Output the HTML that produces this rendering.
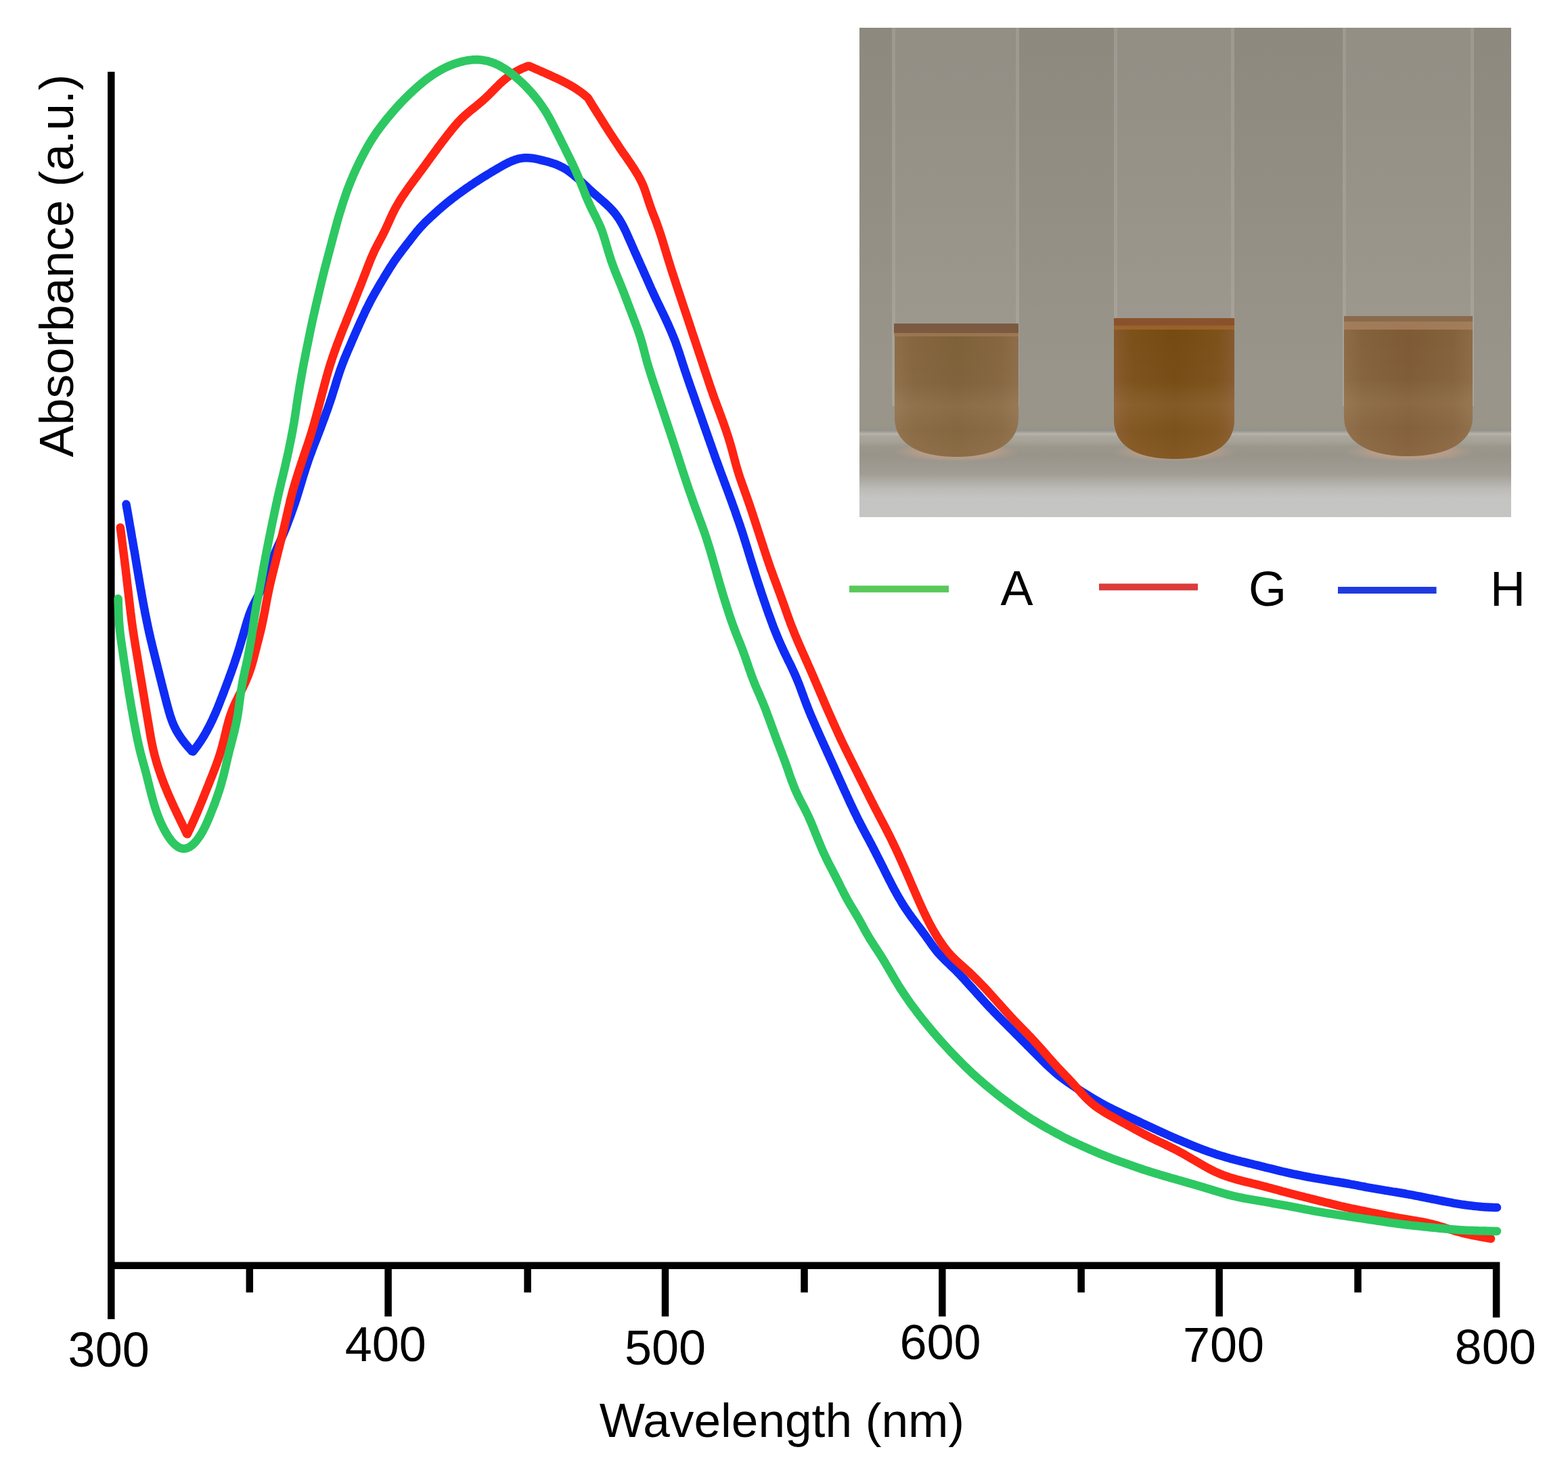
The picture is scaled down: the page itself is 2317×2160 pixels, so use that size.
<!DOCTYPE html><html><head><meta charset="utf-8"><title>Absorbance spectra</title>
<style>html,body{margin:0;padding:0;background:#fff;}svg{display:block;font-family:"Liberation Sans",Arial,sans-serif;}</style></head><body>
<svg width="2317" height="2160" viewBox="0 0 2317 2160" xmlns="http://www.w3.org/2000/svg">
<rect width="2317" height="2160" fill="#fff"/>
<defs>
<linearGradient id="pbg" x1="0" y1="0" x2="0" y2="1"><stop offset="0.00%" stop-color="#8e897f"/><stop offset="21.99%" stop-color="#918c81"/><stop offset="49.65%" stop-color="#969186"/><stop offset="71.78%" stop-color="#99958b"/><stop offset="81.47%" stop-color="#999589"/><stop offset="82.30%" stop-color="#93928b"/><stop offset="82.99%" stop-color="#b6b3ab"/><stop offset="83.54%" stop-color="#aaa69d"/><stop offset="84.51%" stop-color="#a7a296"/><stop offset="85.62%" stop-color="#9c978c"/><stop offset="87.28%" stop-color="#99948a"/><stop offset="91.15%" stop-color="#a19d95"/><stop offset="94.19%" stop-color="#bcbbb7"/><stop offset="96.13%" stop-color="#c4c4c2"/><stop offset="100.00%" stop-color="#c5c5c3"/></linearGradient>
<linearGradient id="liq1" x1="0" y1="0" x2="1" y2="0"><stop offset="0" stop-color="#8d6d48"/><stop offset="0.15" stop-color="#84653f"/><stop offset="0.5" stop-color="#7e6038"/><stop offset="0.85" stop-color="#84653f"/><stop offset="1" stop-color="#8d6d48"/></linearGradient>
<linearGradient id="liq2" x1="0" y1="0" x2="1" y2="0"><stop offset="0" stop-color="#86592c"/><stop offset="0.15" stop-color="#7c5019"/><stop offset="0.5" stop-color="#754a12"/><stop offset="0.85" stop-color="#7c5019"/><stop offset="1" stop-color="#86592c"/></linearGradient>
<linearGradient id="liq3" x1="0" y1="0" x2="1" y2="0"><stop offset="0" stop-color="#8c6b45"/><stop offset="0.15" stop-color="#83613b"/><stop offset="0.5" stop-color="#7d5a34"/><stop offset="0.85" stop-color="#83613b"/><stop offset="1" stop-color="#8c6b45"/></linearGradient>
<radialGradient id="refl" cx="0.5" cy="0.5" r="0.5"><stop offset="0" stop-color="#d9a47e" stop-opacity="0.85"/><stop offset="0.6" stop-color="#cfa487" stop-opacity="0.5"/><stop offset="1" stop-color="#c8a690" stop-opacity="0"/></radialGradient>
<linearGradient id="liqv" x1="0" y1="0" x2="0" y2="1"><stop offset="0" stop-color="#fff" stop-opacity="0"/><stop offset="0.45" stop-color="#fff" stop-opacity="0.02"/><stop offset="0.62" stop-color="#ffe8d0" stop-opacity="0.10"/><stop offset="0.8" stop-color="#ffe8d0" stop-opacity="0.05"/><stop offset="1" stop-color="#ffd8b8" stop-opacity="0.10"/></linearGradient>
</defs>
<rect x="1270" y="41" width="963" height="723" fill="url(#pbg)"/>
<rect x="1318" y="41" width="188" height="559" fill="#ffffff" fill-opacity="0.05"/>
<rect x="1318" y="41" width="5" height="559" fill="#ffffff" fill-opacity="0.10"/>
<rect x="1501" y="41" width="5" height="559" fill="#ffffff" fill-opacity="0.10"/>
<rect x="1646" y="41" width="178" height="559" fill="#ffffff" fill-opacity="0.05"/>
<rect x="1646" y="41" width="5" height="559" fill="#ffffff" fill-opacity="0.10"/>
<rect x="1819" y="41" width="5" height="559" fill="#ffffff" fill-opacity="0.10"/>
<rect x="1984" y="41" width="194" height="559" fill="#ffffff" fill-opacity="0.05"/>
<rect x="1984" y="41" width="5" height="559" fill="#ffffff" fill-opacity="0.10"/>
<rect x="2173" y="41" width="5" height="559" fill="#ffffff" fill-opacity="0.10"/>
<ellipse cx="1413" cy="668" rx="93.0" ry="14" fill="url(#refl)"/>
<ellipse cx="1735" cy="668" rx="90.5" ry="14" fill="url(#refl)"/>
<ellipse cx="2083" cy="668" rx="95.5" ry="14" fill="url(#refl)"/>
<path d="M1322,478 L1505,478 L1505,617 C1505,659 1463.5,675 1413.5,675 C1363.5,675 1322,659 1322,617 Z" fill="url(#liq1)"/><path d="M1322,478 L1505,478 L1505,617 C1505,659 1463.5,675 1413.5,675 C1363.5,675 1322,659 1322,617 Z" fill="url(#liqv)"/>
<rect x="1321" y="478" width="184" height="14" fill="#7a5a40"/>
<rect x="1321" y="492" width="184" height="5" fill="#a57c58" fill-opacity="0.7"/>
<path d="M1646,470 L1824,470 L1824,620 C1824,662 1785.0,678 1735.0,678 C1685.0,678 1646,662 1646,620 Z" fill="url(#liq2)"/><path d="M1646,470 L1824,470 L1824,620 C1824,662 1785.0,678 1735.0,678 C1685.0,678 1646,662 1646,620 Z" fill="url(#liqv)"/>
<rect x="1646" y="470" width="178" height="11" fill="#8a522c"/>
<rect x="1646" y="481" width="178" height="6" fill="#a0682e" fill-opacity="0.8"/>
<path d="M1986,467 L2176,467 L2176,616 C2176,658 2131.0,674 2081.0,674 C2031.0,674 1986,658 1986,616 Z" fill="url(#liq3)"/><path d="M1986,467 L2176,467 L2176,616 C2176,658 2131.0,674 2081.0,674 C2031.0,674 1986,658 1986,616 Z" fill="url(#liqv)"/>
<rect x="1986" y="467" width="190" height="8" fill="#8a6a4c"/>
<rect x="1986" y="475" width="190" height="12" fill="#a98262" fill-opacity="0.8"/>
<g stroke="#000" stroke-width="10.5" fill="none">
<line x1="164.3" y1="106" x2="164.3" y2="1949"/>
<path d="M164 1869.8 L2211.1 1869.8 L2211.1 1946.5" stroke-linejoin="miter"/>
<line x1="573.6" y1="1870" x2="573.6" y2="1945"/>
<line x1="983" y1="1870" x2="983" y2="1945"/>
<line x1="1392.3" y1="1870" x2="1392.3" y2="1945"/>
<line x1="1801.6" y1="1870" x2="1801.6" y2="1945"/>
<line x1="368.8" y1="1870" x2="368.8" y2="1909.5"/>
<line x1="779.6" y1="1870" x2="779.6" y2="1909.5"/>
<line x1="1188.5" y1="1870" x2="1188.5" y2="1909.5"/>
<line x1="1597.6" y1="1870" x2="1597.6" y2="1909.5"/>
<line x1="2006.5" y1="1870" x2="2006.5" y2="1909.5"/>
</g>
<g font-size="72" fill="#000">
<text x="100.6" y="2019">300</text>
<text x="509.7" y="2011">400</text>
<text x="923" y="2015.5">500</text>
<text x="1329.5" y="2008">600</text>
<text x="1748" y="2011.5">700</text>
<text x="2149.6" y="2014.5">800</text>
</g>
<text x="885.7" y="2123" font-size="71.2" fill="#000">Wavelength (nm)</text>
<text transform="translate(108.4 675.6) rotate(-90)" font-size="71.2" fill="#000">Absorbance (a.u.)</text>
<g stroke-width="10" stroke-linecap="butt">
<line x1="1255" y1="870.2" x2="1402" y2="870.2" stroke="#5ac85a"/>
<line x1="1624" y1="867.2" x2="1770" y2="867.2" stroke="#dc3c3c"/>
<line x1="1977" y1="872" x2="2122.6" y2="872" stroke="#1f3ae0"/>
</g>
<g font-size="72" fill="#000"><text x="1478.4" y="894">A</text><text x="1845" y="895">G</text><text x="2202" y="894.6">H</text></g>
<g fill="none" stroke-width="12.5" stroke-linejoin="round" stroke-linecap="round">
<path d="M186.5 745.0L186.9 747.3L187.3 749.8L187.8 752.4L188.3 755.1L188.8 757.9L189.3 760.8L189.8 763.8L190.3 766.8L190.9 769.9L191.4 773.0L191.9 776.1L192.5 779.2L193.0 782.3L193.6 785.4L194.1 788.5L194.6 791.5L195.1 794.6L195.7 797.7L196.2 800.7L196.7 803.7L197.2 806.7L197.7 809.8L198.3 812.8L198.8 815.8L199.3 818.8L199.8 821.8L200.3 824.8L200.8 827.8L201.3 830.8L201.8 833.7L202.3 836.7L202.8 839.7L203.3 842.7L203.8 845.7L204.3 848.6L204.8 851.6L205.3 854.6L205.8 857.5L206.3 860.5L206.8 863.5L207.3 866.5L207.8 869.4L208.4 872.4L208.9 875.4L209.4 878.3L209.9 881.3L210.4 884.2L211.0 887.2L211.5 890.2L212.1 893.1L212.6 896.1L213.2 899.0L213.8 902.0L214.3 904.9L214.9 907.9L215.5 910.8L216.1 913.8L216.7 916.7L217.3 919.7L217.9 922.6L218.5 925.6L219.1 928.5L219.8 931.4L220.4 934.4L221.1 937.3L221.7 940.2L222.4 943.2L223.1 946.1L223.8 949.0L224.5 951.9L225.2 954.9L225.9 957.8L226.6 960.7L227.4 963.6L228.1 966.5L228.8 969.5L229.5 972.4L230.3 975.3L231.0 978.2L231.7 981.1L232.5 984.1L233.2 987.0L233.9 989.9L234.7 992.8L235.4 995.7L236.1 998.7L236.8 1001.6L237.6 1004.5L238.3 1007.4L239.0 1010.3L239.8 1013.3L240.5 1016.2L241.2 1019.1L242.0 1022.0L242.7 1025.0L243.5 1027.9L244.2 1030.8L245.0 1033.7L245.7 1036.7L246.5 1039.6L247.3 1042.5L248.1 1045.4L248.9 1048.4L249.7 1051.3L250.6 1054.2L251.4 1057.1L252.4 1060.0L253.4 1062.8L254.4 1065.7L255.5 1068.5L256.7 1071.3L258.0 1074.1L259.4 1076.8L260.8 1079.6L262.3 1082.2L264.0 1084.9L265.7 1087.5L267.4 1090.0L269.2 1092.6L271.1 1095.0L272.9 1097.4L274.8 1099.7L276.7 1102.0L278.5 1104.1L280.3 1106.1L282.0 1108.0L283.6 1109.9L285.2 1110.4L286.7 1108.5L288.2 1106.5L289.8 1104.4L291.4 1102.2L293.1 1099.8L294.8 1097.4L296.5 1094.9L298.2 1092.3L299.8 1089.7L301.4 1087.1L303.0 1084.4L304.6 1081.6L306.1 1078.9L307.5 1076.2L309.0 1073.4L310.4 1070.6L311.7 1067.9L313.1 1065.1L314.4 1062.3L315.6 1059.5L316.9 1056.8L318.1 1054.0L319.3 1051.2L320.5 1048.4L321.7 1045.6L322.8 1042.8L323.9 1040.0L325.0 1037.1L326.1 1034.3L327.2 1031.5L328.3 1028.7L329.4 1025.9L330.5 1023.1L331.5 1020.3L332.6 1017.4L333.7 1014.6L334.7 1011.8L335.8 1009.0L336.8 1006.2L337.9 1003.4L338.9 1000.5L339.9 997.7L341.0 994.9L342.0 992.1L343.0 989.2L344.0 986.4L345.0 983.6L346.0 980.7L346.9 977.9L347.9 975.1L348.8 972.2L349.8 969.4L350.7 966.5L351.6 963.6L352.5 960.8L353.4 957.9L354.3 955.0L355.1 952.2L356.0 949.3L356.8 946.4L357.7 943.5L358.5 940.7L359.4 937.8L360.2 934.9L361.0 932.0L361.9 929.1L362.7 926.3L363.5 923.4L364.4 920.5L365.2 917.6L366.1 914.8L367.1 912.0L368.0 909.2L369.1 906.4L370.1 903.6L371.3 900.8L372.4 898.1L373.7 895.4L374.9 892.7L376.3 890.1L377.6 887.4L379.0 884.8L380.3 882.1L381.7 879.5L383.0 876.8L384.3 874.1L385.6 871.5L386.9 868.7L388.0 866.0L389.2 863.3L390.3 860.5L391.4 857.7L392.4 854.9L393.5 852.1L394.5 849.3L395.5 846.4L396.4 843.6L397.4 840.8L398.4 838.0L399.4 835.1L400.4 832.3L401.4 829.5L402.5 826.7L403.5 823.9L404.6 821.1L405.8 818.3L406.9 815.6L408.1 812.8L409.3 810.1L410.5 807.4L411.7 804.6L413.0 801.9L414.2 799.2L415.4 796.5L416.6 793.7L417.8 791.0L419.0 788.2L420.2 785.5L421.3 782.7L422.4 779.9L423.5 777.1L424.6 774.3L425.6 771.5L426.7 768.7L427.7 765.9L428.8 763.1L429.8 760.3L430.8 757.4L431.8 754.6L432.8 751.8L433.8 749.0L434.8 746.1L435.8 743.3L436.7 740.4L437.7 737.6L438.6 734.7L439.5 731.9L440.4 729.0L441.3 726.2L442.1 723.3L443.0 720.4L443.9 717.5L444.7 714.7L445.6 711.8L446.5 708.9L447.3 706.0L448.2 703.2L449.1 700.3L450.0 697.5L450.9 694.6L451.8 691.7L452.8 688.9L453.7 686.0L454.7 683.2L455.6 680.4L456.6 677.5L457.6 674.7L458.6 671.9L459.7 669.1L460.7 666.3L461.8 663.4L462.8 660.6L463.9 657.8L465.0 655.0L466.1 652.2L467.2 649.4L468.3 646.7L469.3 643.9L470.4 641.1L471.5 638.3L472.6 635.5L473.7 632.7L474.7 629.8L475.8 627.0L476.8 624.2L477.8 621.4L478.9 618.6L479.9 615.8L480.9 613.0L481.9 610.1L483.0 607.3L484.0 604.5L485.0 601.6L485.9 598.8L486.9 596.0L487.9 593.1L488.8 590.3L489.8 587.4L490.7 584.6L491.6 581.7L492.5 578.9L493.4 576.0L494.3 573.1L495.2 570.3L496.1 567.4L496.9 564.5L497.8 561.7L498.7 558.8L499.7 556.0L500.6 553.1L501.5 550.3L502.5 547.4L503.5 544.6L504.5 541.8L505.6 539.0L506.6 536.2L507.7 533.4L508.8 530.6L509.9 527.8L511.1 525.1L512.3 522.3L513.4 519.5L514.6 516.8L515.8 514.0L517.0 511.3L518.2 508.5L519.3 505.8L520.5 503.0L521.7 500.3L522.9 497.5L524.1 494.8L525.3 492.0L526.5 489.3L527.8 486.5L529.0 483.8L530.2 481.0L531.4 478.3L532.6 475.6L533.9 472.8L535.1 470.1L536.4 467.4L537.7 464.7L538.9 461.9L540.2 459.2L541.5 456.5L542.9 453.8L544.2 451.2L545.6 448.5L546.9 445.8L548.3 443.2L549.7 440.5L551.2 437.9L552.6 435.3L554.1 432.7L555.6 430.1L557.1 427.5L558.6 424.9L560.1 422.3L561.6 419.7L563.2 417.1L564.7 414.5L566.3 412.0L567.8 409.4L569.4 406.8L570.9 404.3L572.5 401.7L574.1 399.2L575.6 396.6L577.3 394.1L578.9 391.6L580.5 389.1L582.2 386.6L583.9 384.1L585.6 381.7L587.3 379.2L589.1 376.8L590.9 374.4L592.7 372.0L594.5 369.6L596.3 367.2L598.1 364.9L600.0 362.5L601.8 360.1L603.6 357.8L605.5 355.4L607.3 353.0L609.1 350.7L611.0 348.3L612.8 346.0L614.7 343.6L616.6 341.3L618.6 339.1L620.5 336.8L622.5 334.6L624.6 332.4L626.6 330.3L628.7 328.1L630.9 326.0L633.0 324.0L635.2 321.9L637.4 319.8L639.6 317.8L641.8 315.8L644.0 313.8L646.2 311.8L648.5 309.8L650.8 307.9L653.0 305.9L655.3 304.0L657.6 302.0L659.9 300.1L662.3 298.3L664.6 296.4L667.0 294.5L669.3 292.7L671.7 290.9L674.1 289.1L676.5 287.3L679.0 285.5L681.4 283.8L683.8 282.0L686.3 280.3L688.7 278.5L691.2 276.8L693.7 275.1L696.1 273.5L698.6 271.8L701.1 270.1L703.6 268.5L706.2 266.9L708.7 265.2L711.2 263.6L713.7 262.0L716.3 260.4L718.8 258.9L721.4 257.3L724.0 255.7L726.5 254.2L729.1 252.6L731.7 251.1L734.2 249.6L736.8 248.1L739.4 246.6L742.0 245.1L744.6 243.6L747.3 242.2L749.9 240.9L752.5 239.6L755.2 238.4L757.9 237.3L760.6 236.3L763.3 235.4L766.1 234.6L768.9 234.0L771.7 233.6L774.5 233.3L777.3 233.2L780.2 233.3L783.0 233.4L785.9 233.7L788.7 234.2L791.6 234.7L794.5 235.2L797.3 235.9L800.2 236.6L803.1 237.3L805.9 238.0L808.8 238.8L811.6 239.6L814.5 240.5L817.3 241.4L820.1 242.3L822.8 243.4L825.5 244.5L828.2 245.8L830.8 247.1L833.4 248.5L835.9 250.0L838.4 251.6L840.8 253.2L843.2 255.0L845.5 256.8L847.8 258.7L850.1 260.6L852.4 262.5L854.6 264.5L856.8 266.5L859.0 268.5L861.2 270.6L863.4 272.6L865.6 274.7L867.8 276.7L870.0 278.8L872.2 280.8L874.4 282.8L876.6 284.8L878.8 286.8L881.1 288.8L883.4 290.7L885.6 292.7L887.9 294.6L890.2 296.6L892.4 298.6L894.6 300.5L896.8 302.6L899.0 304.6L901.1 306.7L903.1 308.8L905.1 311.0L907.1 313.2L909.0 315.5L910.8 317.9L912.5 320.3L914.2 322.7L915.8 325.2L917.3 327.7L918.8 330.3L920.2 332.9L921.6 335.6L922.9 338.2L924.2 340.9L925.5 343.6L926.7 346.4L927.9 349.1L929.1 351.8L930.3 354.6L931.6 357.3L932.8 360.1L934.0 362.8L935.2 365.6L936.4 368.3L937.6 371.1L938.8 373.8L940.1 376.5L941.3 379.3L942.5 382.0L943.8 384.7L945.0 387.5L946.2 390.2L947.4 393.0L948.7 395.7L949.9 398.4L951.1 401.2L952.3 403.9L953.5 406.7L954.8 409.4L956.0 412.2L957.2 414.9L958.4 417.6L959.6 420.4L960.8 423.1L962.0 425.9L963.3 428.6L964.5 431.3L965.8 434.1L967.0 436.8L968.3 439.5L969.6 442.2L970.9 444.9L972.2 447.6L973.5 450.3L974.8 453.0L976.1 455.7L977.4 458.4L978.7 461.1L980.0 463.8L981.3 466.5L982.6 469.2L983.9 472.0L985.1 474.7L986.4 477.4L987.6 480.1L988.8 482.9L990.0 485.6L991.2 488.4L992.4 491.1L993.5 493.9L994.7 496.7L995.8 499.5L996.9 502.2L998.0 505.0L999.0 507.9L1000.0 510.7L1001.0 513.5L1002.0 516.3L1003.0 519.2L1003.9 522.0L1004.8 524.9L1005.7 527.7L1006.7 530.6L1007.6 533.4L1008.5 536.3L1009.4 539.1L1010.4 542.0L1011.3 544.8L1012.2 547.7L1013.2 550.5L1014.2 553.4L1015.1 556.2L1016.1 559.0L1017.1 561.9L1018.1 564.7L1019.0 567.6L1020.0 570.4L1021.0 573.2L1022.0 576.1L1023.0 578.9L1024.0 581.7L1025.0 584.6L1026.0 587.4L1027.0 590.2L1027.9 593.1L1028.9 595.9L1029.9 598.7L1030.9 601.5L1031.9 604.4L1032.9 607.2L1033.9 610.0L1034.9 612.9L1035.9 615.7L1036.9 618.5L1037.8 621.4L1038.8 624.2L1039.8 627.0L1040.8 629.9L1041.8 632.7L1042.8 635.5L1043.8 638.4L1044.8 641.2L1045.8 644.0L1046.8 646.9L1047.8 649.7L1048.8 652.5L1049.8 655.4L1050.8 658.2L1051.8 661.0L1052.8 663.8L1053.8 666.7L1054.8 669.5L1055.8 672.3L1056.8 675.2L1057.8 678.0L1058.8 680.8L1059.9 683.6L1060.9 686.4L1061.9 689.3L1063.0 692.1L1064.0 694.9L1065.0 697.7L1066.1 700.5L1067.1 703.3L1068.2 706.1L1069.2 708.9L1070.3 711.7L1071.3 714.6L1072.4 717.4L1073.4 720.2L1074.5 723.0L1075.5 725.8L1076.6 728.6L1077.6 731.4L1078.6 734.3L1079.7 737.1L1080.7 739.9L1081.7 742.7L1082.7 745.5L1083.7 748.4L1084.8 751.2L1085.8 754.0L1086.8 756.8L1087.7 759.7L1088.7 762.5L1089.7 765.3L1090.7 768.2L1091.7 771.0L1092.7 773.9L1093.6 776.7L1094.6 779.5L1095.5 782.4L1096.5 785.2L1097.4 788.1L1098.3 790.9L1099.2 793.8L1100.1 796.7L1101.0 799.5L1101.9 802.4L1102.8 805.3L1103.7 808.1L1104.6 811.0L1105.4 813.9L1106.3 816.7L1107.2 819.6L1108.1 822.5L1108.9 825.3L1109.8 828.2L1110.7 831.1L1111.6 833.9L1112.5 836.8L1113.4 839.7L1114.3 842.5L1115.2 845.4L1116.1 848.2L1117.0 851.1L1118.0 854.0L1118.9 856.8L1119.8 859.7L1120.7 862.5L1121.7 865.4L1122.6 868.2L1123.6 871.1L1124.5 873.9L1125.4 876.8L1126.4 879.6L1127.4 882.5L1128.3 885.3L1129.3 888.1L1130.3 891.0L1131.3 893.8L1132.2 896.6L1133.2 899.5L1134.2 902.3L1135.2 905.1L1136.2 908.0L1137.3 910.8L1138.3 913.6L1139.3 916.4L1140.3 919.2L1141.4 922.0L1142.4 924.9L1143.5 927.7L1144.6 930.4L1145.7 933.2L1146.8 936.0L1148.0 938.8L1149.1 941.6L1150.3 944.3L1151.5 947.1L1152.7 949.8L1153.9 952.6L1155.1 955.3L1156.4 958.0L1157.6 960.7L1158.9 963.5L1160.2 966.2L1161.5 968.9L1162.8 971.6L1164.1 974.3L1165.4 977.0L1166.8 979.6L1168.1 982.3L1169.4 985.0L1170.7 987.8L1171.9 990.5L1173.2 993.2L1174.4 995.9L1175.6 998.7L1176.8 1001.4L1177.9 1004.2L1179.1 1007.0L1180.2 1009.7L1181.3 1012.5L1182.3 1015.3L1183.4 1018.1L1184.4 1021.0L1185.4 1023.8L1186.5 1026.6L1187.5 1029.4L1188.5 1032.2L1189.6 1035.0L1190.6 1037.8L1191.7 1040.6L1192.8 1043.4L1193.9 1046.2L1195.0 1049.0L1196.1 1051.8L1197.3 1054.6L1198.4 1057.3L1199.6 1060.1L1200.8 1062.8L1202.0 1065.6L1203.2 1068.3L1204.4 1071.1L1205.6 1073.8L1206.8 1076.6L1208.1 1079.3L1209.3 1082.0L1210.5 1084.8L1211.7 1087.5L1213.0 1090.3L1214.2 1093.0L1215.4 1095.7L1216.7 1098.5L1217.9 1101.2L1219.1 1103.9L1220.4 1106.7L1221.6 1109.4L1222.8 1112.1L1224.1 1114.9L1225.3 1117.6L1226.5 1120.4L1227.8 1123.1L1229.0 1125.8L1230.2 1128.6L1231.5 1131.3L1232.7 1134.0L1233.9 1136.8L1235.1 1139.5L1236.4 1142.2L1237.6 1145.0L1238.8 1147.7L1240.1 1150.4L1241.3 1153.2L1242.5 1155.9L1243.8 1158.7L1245.0 1161.4L1246.2 1164.1L1247.5 1166.9L1248.7 1169.6L1250.0 1172.3L1251.2 1175.1L1252.5 1177.8L1253.7 1180.5L1255.0 1183.2L1256.2 1186.0L1257.5 1188.7L1258.8 1191.4L1260.1 1194.1L1261.3 1196.8L1262.6 1199.5L1264.0 1202.2L1265.3 1204.9L1266.6 1207.6L1267.9 1210.3L1269.3 1213.0L1270.7 1215.6L1272.0 1218.3L1273.4 1221.0L1274.8 1223.6L1276.2 1226.3L1277.6 1228.9L1279.0 1231.6L1280.4 1234.2L1281.9 1236.9L1283.3 1239.5L1284.7 1242.1L1286.1 1244.8L1287.5 1247.5L1288.9 1250.1L1290.3 1252.8L1291.6 1255.4L1293.0 1258.1L1294.4 1260.8L1295.7 1263.5L1297.1 1266.1L1298.4 1268.8L1299.8 1271.5L1301.1 1274.2L1302.5 1276.9L1303.8 1279.5L1305.2 1282.2L1306.5 1284.9L1307.8 1287.6L1309.2 1290.3L1310.5 1293.0L1311.9 1295.6L1313.2 1298.3L1314.6 1301.0L1316.0 1303.7L1317.3 1306.3L1318.7 1309.0L1320.1 1311.6L1321.5 1314.3L1323.0 1316.9L1324.4 1319.5L1325.9 1322.2L1327.4 1324.8L1328.9 1327.4L1330.4 1329.9L1331.9 1332.5L1333.5 1335.1L1335.1 1337.6L1336.7 1340.1L1338.3 1342.6L1340.0 1345.1L1341.7 1347.6L1343.4 1350.0L1345.2 1352.5L1346.9 1354.9L1348.7 1357.3L1350.5 1359.7L1352.3 1362.1L1354.1 1364.5L1355.9 1366.9L1357.7 1369.3L1359.5 1371.6L1361.3 1374.0L1363.1 1376.5L1364.9 1378.9L1366.7 1381.3L1368.4 1383.7L1370.1 1386.2L1371.9 1388.6L1373.6 1391.1L1375.3 1393.5L1377.1 1395.9L1378.8 1398.3L1380.6 1400.7L1382.4 1403.1L1384.3 1405.4L1386.2 1407.7L1388.1 1409.9L1390.1 1412.1L1392.2 1414.2L1394.2 1416.3L1396.3 1418.4L1398.5 1420.5L1400.6 1422.5L1402.8 1424.6L1404.9 1426.6L1407.1 1428.7L1409.2 1430.7L1411.4 1432.8L1413.5 1434.9L1415.6 1437.1L1417.6 1439.2L1419.7 1441.4L1421.7 1443.6L1423.8 1445.8L1425.8 1448.0L1427.8 1450.2L1429.8 1452.5L1431.8 1454.7L1433.8 1456.9L1435.9 1459.1L1437.9 1461.4L1439.9 1463.6L1441.9 1465.8L1443.9 1468.1L1445.9 1470.3L1447.9 1472.5L1449.9 1474.7L1451.9 1476.9L1454.0 1479.2L1456.0 1481.4L1458.0 1483.6L1460.1 1485.8L1462.1 1488.0L1464.2 1490.1L1466.3 1492.3L1468.3 1494.5L1470.4 1496.6L1472.5 1498.8L1474.6 1500.9L1476.7 1503.1L1478.8 1505.2L1480.9 1507.3L1483.0 1509.5L1485.2 1511.6L1487.3 1513.7L1489.4 1515.8L1491.5 1518.0L1493.7 1520.1L1495.8 1522.2L1497.9 1524.3L1500.0 1526.4L1502.1 1528.6L1504.3 1530.7L1506.4 1532.8L1508.5 1534.9L1510.6 1537.1L1512.7 1539.2L1514.9 1541.3L1517.0 1543.4L1519.1 1545.6L1521.2 1547.7L1523.3 1549.8L1525.5 1551.9L1527.6 1554.1L1529.7 1556.2L1531.8 1558.3L1533.9 1560.4L1536.1 1562.5L1538.2 1564.7L1540.3 1566.8L1542.5 1568.9L1544.6 1571.0L1546.7 1573.1L1548.9 1575.1L1551.1 1577.2L1553.3 1579.2L1555.5 1581.2L1557.7 1583.2L1560.0 1585.2L1562.3 1587.1L1564.6 1589.0L1566.9 1590.8L1569.3 1592.7L1571.7 1594.4L1574.1 1596.2L1576.5 1597.9L1579.0 1599.7L1581.5 1601.3L1584.0 1603.0L1586.4 1604.7L1588.9 1606.4L1591.4 1608.0L1594.0 1609.6L1596.5 1611.3L1599.0 1612.9L1601.5 1614.5L1604.1 1616.1L1606.6 1617.7L1609.2 1619.2L1611.7 1620.8L1614.3 1622.4L1616.9 1623.9L1619.5 1625.4L1622.1 1626.9L1624.7 1628.4L1627.3 1629.9L1629.9 1631.3L1632.5 1632.8L1635.2 1634.2L1637.8 1635.6L1640.5 1636.9L1643.2 1638.3L1645.9 1639.6L1648.6 1640.9L1651.3 1642.2L1654.0 1643.5L1656.7 1644.8L1659.4 1646.1L1662.1 1647.4L1664.8 1648.6L1667.5 1649.9L1670.3 1651.2L1673.0 1652.4L1675.7 1653.7L1678.4 1655.0L1681.1 1656.2L1683.8 1657.5L1686.6 1658.8L1689.3 1660.1L1692.0 1661.3L1694.7 1662.6L1697.4 1663.9L1700.2 1665.1L1702.9 1666.4L1705.6 1667.7L1708.3 1668.9L1711.0 1670.2L1713.8 1671.4L1716.5 1672.7L1719.2 1673.9L1722.0 1675.2L1724.7 1676.4L1727.4 1677.6L1730.2 1678.9L1732.9 1680.1L1735.7 1681.3L1738.4 1682.5L1741.2 1683.7L1743.9 1684.8L1746.7 1686.0L1749.5 1687.2L1752.2 1688.3L1755.0 1689.5L1757.8 1690.6L1760.5 1691.8L1763.3 1692.9L1766.1 1694.0L1768.9 1695.2L1771.7 1696.2L1774.5 1697.3L1777.3 1698.4L1780.1 1699.4L1782.9 1700.4L1785.7 1701.5L1788.6 1702.4L1791.4 1703.4L1794.2 1704.3L1797.1 1705.3L1799.9 1706.2L1802.8 1707.1L1805.7 1708.0L1808.5 1708.8L1811.4 1709.7L1814.3 1710.5L1817.2 1711.4L1820.1 1712.2L1823.0 1712.9L1825.9 1713.7L1828.8 1714.5L1831.7 1715.2L1834.6 1716.0L1837.5 1716.7L1840.4 1717.4L1843.3 1718.1L1846.2 1718.8L1849.1 1719.5L1852.1 1720.3L1855.0 1721.0L1857.9 1721.7L1860.8 1722.4L1863.7 1723.1L1866.6 1723.8L1869.5 1724.6L1872.5 1725.3L1875.4 1726.0L1878.3 1726.7L1881.2 1727.4L1884.1 1728.1L1887.0 1728.9L1889.9 1729.6L1892.9 1730.3L1895.8 1731.0L1898.7 1731.6L1901.6 1732.3L1904.5 1733.0L1907.5 1733.6L1910.4 1734.3L1913.3 1734.9L1916.3 1735.5L1919.2 1736.1L1922.2 1736.7L1925.1 1737.3L1928.0 1737.9L1931.0 1738.5L1933.9 1739.0L1936.9 1739.6L1939.8 1740.1L1942.8 1740.7L1945.7 1741.2L1948.7 1741.7L1951.6 1742.2L1954.6 1742.7L1957.6 1743.2L1960.5 1743.7L1963.5 1744.2L1966.5 1744.6L1969.4 1745.1L1972.4 1745.6L1975.3 1746.0L1978.3 1746.5L1981.3 1747.0L1984.2 1747.5L1987.2 1748.0L1990.1 1748.5L1993.1 1749.0L1996.0 1749.6L1999.0 1750.1L2001.9 1750.7L2004.9 1751.2L2007.8 1751.8L2010.8 1752.4L2013.7 1752.9L2016.7 1753.5L2019.6 1754.1L2022.6 1754.6L2025.5 1755.1L2028.5 1755.7L2031.4 1756.2L2034.4 1756.7L2037.3 1757.2L2040.3 1757.7L2043.3 1758.2L2046.2 1758.7L2049.2 1759.1L2052.2 1759.6L2055.1 1760.1L2058.1 1760.6L2061.0 1761.0L2064.0 1761.5L2067.0 1762.0L2069.9 1762.5L2072.9 1763.0L2075.8 1763.5L2078.8 1764.1L2081.7 1764.6L2084.7 1765.2L2087.7 1765.7L2090.6 1766.3L2093.6 1766.9L2096.5 1767.4L2099.5 1768.0L2102.4 1768.6L2105.4 1769.2L2108.3 1769.8L2111.3 1770.4L2114.2 1771.0L2117.2 1771.5L2120.1 1772.1L2123.1 1772.7L2126.1 1773.3L2129.0 1773.9L2132.0 1774.5L2135.0 1775.0L2137.9 1775.6L2140.9 1776.2L2143.9 1776.7L2146.9 1777.3L2149.9 1777.8L2152.9 1778.3L2156.0 1778.8L2159.0 1779.3L2162.0 1779.8L2165.1 1780.2L2168.2 1780.6L2171.3 1781.0L2174.4 1781.4L2177.5 1781.8L2180.6 1782.1L2183.7 1782.4L2186.8 1782.7L2189.9 1783.0L2193.0 1783.2L2196.0 1783.4L2198.9 1783.5L2201.8 1783.7L2204.5 1783.8L2207.2 1783.9L2209.6 1783.9L2212.0 1784.0" stroke="#0f2cf5"/>
<path d="M177.8 779.4L178.1 781.7L178.4 784.2L178.8 786.8L179.1 789.6L179.5 792.4L179.9 795.3L180.2 798.3L180.6 801.4L181.0 804.4L181.4 807.6L181.8 810.7L182.2 813.8L182.6 816.9L183.0 820.0L183.4 823.1L183.8 826.2L184.2 829.3L184.5 832.3L184.9 835.4L185.3 838.5L185.7 841.5L186.0 844.5L186.4 847.6L186.7 850.6L187.1 853.6L187.4 856.6L187.8 859.6L188.1 862.6L188.5 865.6L188.8 868.6L189.2 871.6L189.5 874.6L189.9 877.6L190.2 880.6L190.6 883.6L190.9 886.6L191.3 889.6L191.6 892.6L192.0 895.6L192.3 898.6L192.7 901.6L193.0 904.5L193.4 907.5L193.8 910.5L194.1 913.5L194.5 916.5L194.9 919.5L195.3 922.4L195.7 925.4L196.1 928.4L196.6 931.4L197.0 934.3L197.5 937.3L197.9 940.3L198.4 943.2L198.9 946.2L199.4 949.2L199.8 952.1L200.3 955.1L200.8 958.0L201.3 961.0L201.8 964.0L202.3 966.9L202.8 969.9L203.3 972.9L203.8 975.8L204.3 978.8L204.8 981.7L205.3 984.7L205.7 987.7L206.2 990.6L206.7 993.6L207.2 996.6L207.7 999.5L208.2 1002.5L208.7 1005.4L209.2 1008.4L209.7 1011.4L210.2 1014.3L210.7 1017.3L211.2 1020.2L211.7 1023.2L212.2 1026.2L212.7 1029.1L213.2 1032.1L213.6 1035.1L214.1 1038.0L214.6 1041.0L215.1 1043.9L215.6 1046.9L216.1 1049.9L216.6 1052.8L217.1 1055.8L217.6 1058.8L218.1 1061.7L218.6 1064.7L219.1 1067.6L219.6 1070.6L220.1 1073.6L220.6 1076.5L221.1 1079.5L221.6 1082.4L222.1 1085.4L222.6 1088.4L223.2 1091.3L223.7 1094.3L224.3 1097.2L224.9 1100.1L225.5 1103.1L226.1 1106.0L226.8 1108.9L227.5 1111.8L228.2 1114.8L229.0 1117.7L229.8 1120.6L230.6 1123.4L231.4 1126.3L232.3 1129.2L233.2 1132.1L234.1 1134.9L235.1 1137.8L236.0 1140.6L237.0 1143.5L238.0 1146.3L239.0 1149.2L240.1 1152.0L241.1 1154.8L242.2 1157.6L243.3 1160.5L244.5 1163.3L245.6 1166.1L246.8 1168.9L247.9 1171.7L249.1 1174.5L250.4 1177.3L251.6 1180.1L252.9 1182.9L254.1 1185.7L255.4 1188.5L256.7 1191.4L258.0 1194.2L259.4 1197.0L260.7 1199.8L262.1 1202.7L263.4 1205.5L264.8 1208.4L266.1 1211.2L267.5 1214.0L268.8 1216.7L270.1 1219.4L271.4 1222.1L272.6 1224.6L273.7 1227.1L274.9 1229.4L275.9 1231.6L276.9 1232.3L278.0 1230.1L279.0 1227.8L280.2 1225.4L281.3 1222.9L282.6 1220.3L283.8 1217.6L285.0 1214.8L286.3 1212.0L287.6 1209.1L288.8 1206.2L290.1 1203.4L291.3 1200.5L292.5 1197.6L293.7 1194.7L294.9 1191.8L296.1 1188.9L297.3 1186.1L298.5 1183.2L299.6 1180.4L300.8 1177.5L301.9 1174.7L303.0 1171.8L304.2 1169.0L305.3 1166.2L306.4 1163.4L307.6 1160.6L308.7 1157.7L309.8 1154.9L310.9 1152.1L312.1 1149.3L313.2 1146.5L314.3 1143.7L315.4 1140.9L316.5 1138.1L317.6 1135.3L318.6 1132.5L319.7 1129.7L320.7 1126.8L321.7 1124.0L322.7 1121.2L323.7 1118.3L324.6 1115.5L325.5 1112.6L326.3 1109.8L327.2 1106.9L328.0 1104.0L328.7 1101.1L329.5 1098.2L330.2 1095.3L331.0 1092.4L331.7 1089.4L332.4 1086.5L333.1 1083.6L333.8 1080.7L334.5 1077.8L335.2 1074.9L336.0 1072.0L336.7 1069.1L337.5 1066.2L338.3 1063.3L339.2 1060.5L340.1 1057.6L341.1 1054.8L342.1 1052.0L343.1 1049.2L344.2 1046.5L345.4 1043.7L346.6 1041.0L347.9 1038.3L349.1 1035.6L350.5 1032.9L351.8 1030.2L353.1 1027.5L354.5 1024.9L355.8 1022.2L357.1 1019.5L358.4 1016.8L359.7 1014.1L361.0 1011.4L362.2 1008.7L363.5 1005.9L364.6 1003.2L365.8 1000.4L366.9 997.6L367.9 994.8L368.9 992.0L369.9 989.2L370.9 986.4L371.7 983.5L372.6 980.6L373.4 977.8L374.2 974.9L374.9 972.0L375.7 969.1L376.4 966.2L377.2 963.3L377.9 960.4L378.7 957.5L379.4 954.6L380.1 951.7L380.9 948.8L381.7 945.9L382.4 943.0L383.1 940.1L383.9 937.1L384.6 934.2L385.3 931.3L386.0 928.4L386.6 925.5L387.3 922.5L387.9 919.6L388.5 916.7L389.1 913.7L389.7 910.8L390.3 907.8L390.9 904.9L391.4 902.0L392.0 899.0L392.5 896.1L393.1 893.1L393.6 890.1L394.2 887.2L394.7 884.3L395.3 881.3L395.9 878.4L396.5 875.4L397.1 872.5L397.7 869.6L398.4 866.6L399.0 863.7L399.7 860.8L400.4 857.9L401.1 854.9L401.8 852.0L402.5 849.1L403.2 846.2L404.0 843.3L404.7 840.4L405.4 837.5L406.1 834.5L406.9 831.6L407.6 828.7L408.3 825.8L409.1 822.9L409.8 820.0L410.5 817.1L411.2 814.2L412.0 811.2L412.7 808.3L413.4 805.4L414.1 802.5L414.9 799.6L415.6 796.7L416.3 793.8L417.0 790.8L417.7 787.9L418.4 785.0L419.1 782.1L419.8 779.2L420.5 776.2L421.2 773.3L421.8 770.4L422.5 767.5L423.2 764.5L423.8 761.6L424.5 758.7L425.2 755.8L425.8 752.8L426.5 749.9L427.2 747.0L427.9 744.1L428.5 741.1L429.2 738.2L430.0 735.3L430.7 732.4L431.5 729.5L432.2 726.6L433.0 723.7L433.9 720.8L434.7 718.0L435.5 715.1L436.4 712.2L437.3 709.3L438.2 706.5L439.1 703.6L440.0 700.7L440.9 697.9L441.8 695.0L442.7 692.2L443.7 689.3L444.6 686.5L445.5 683.6L446.5 680.8L447.4 677.9L448.4 675.1L449.3 672.2L450.3 669.4L451.3 666.5L452.2 663.7L453.2 660.8L454.2 658.0L455.1 655.2L456.1 652.3L457.0 649.5L457.9 646.6L458.8 643.8L459.7 640.9L460.6 638.0L461.5 635.1L462.3 632.3L463.2 629.4L464.0 626.5L464.8 623.6L465.6 620.7L466.4 617.8L467.2 614.9L468.0 612.0L468.8 609.1L469.5 606.2L470.3 603.3L471.1 600.4L471.8 597.5L472.6 594.6L473.4 591.7L474.1 588.8L474.9 585.9L475.6 583.0L476.4 580.1L477.2 577.2L477.9 574.3L478.7 571.4L479.4 568.5L480.2 565.6L481.0 562.7L481.8 559.8L482.5 556.9L483.4 554.0L484.2 551.1L485.0 548.2L485.9 545.4L486.7 542.5L487.6 539.6L488.5 536.8L489.5 533.9L490.4 531.1L491.3 528.2L492.3 525.4L493.3 522.5L494.3 519.7L495.3 516.9L496.3 514.1L497.3 511.2L498.4 508.4L499.4 505.6L500.5 502.8L501.6 500.0L502.6 497.2L503.7 494.4L504.8 491.6L505.9 488.8L507.0 486.0L508.1 483.2L509.3 480.5L510.4 477.7L511.5 474.9L512.6 472.1L513.7 469.3L514.8 466.5L516.0 463.7L517.1 460.9L518.2 458.2L519.3 455.4L520.4 452.6L521.5 449.8L522.7 447.0L523.8 444.2L524.9 441.4L526.0 438.7L527.1 435.9L528.2 433.1L529.3 430.3L530.4 427.5L531.6 424.7L532.7 421.9L533.8 419.1L534.9 416.3L536.0 413.5L537.0 410.7L538.1 407.9L539.2 405.1L540.3 402.3L541.4 399.5L542.4 396.7L543.5 393.9L544.6 391.1L545.7 388.3L546.8 385.6L547.9 382.8L549.1 380.0L550.3 377.3L551.5 374.6L552.7 371.8L554.0 369.1L555.3 366.5L556.7 363.8L558.1 361.1L559.5 358.5L560.9 355.9L562.3 353.2L563.7 350.6L565.1 347.9L566.4 345.3L567.8 342.6L569.1 339.9L570.4 337.2L571.6 334.5L572.8 331.8L574.1 329.1L575.3 326.3L576.5 323.6L577.7 320.9L579.0 318.2L580.2 315.5L581.6 312.8L582.9 310.2L584.3 307.5L585.8 304.9L587.3 302.3L588.8 299.8L590.3 297.2L591.9 294.7L593.5 292.1L595.2 289.6L596.8 287.2L598.5 284.7L600.2 282.2L602.0 279.8L603.7 277.3L605.4 274.9L607.2 272.4L609.0 270.0L610.8 267.6L612.6 265.2L614.3 262.8L616.1 260.4L617.9 258.0L619.7 255.6L621.5 253.1L623.3 250.7L625.0 248.3L626.8 245.9L628.6 243.5L630.4 241.0L632.1 238.6L633.9 236.2L635.7 233.8L637.4 231.3L639.2 228.9L641.0 226.5L642.8 224.1L644.6 221.7L646.3 219.2L648.1 216.8L649.9 214.4L651.7 212.0L653.5 209.6L655.4 207.2L657.2 204.9L659.0 202.5L660.8 200.1L662.7 197.7L664.6 195.4L666.4 193.0L668.3 190.7L670.2 188.4L672.1 186.1L674.1 183.8L676.0 181.6L678.1 179.4L680.1 177.2L682.2 175.1L684.3 173.1L686.5 171.0L688.7 169.1L690.9 167.1L693.2 165.2L695.5 163.3L697.8 161.4L700.2 159.5L702.5 157.7L704.8 155.8L707.1 153.9L709.4 151.9L711.7 150.0L714.0 148.0L716.2 146.0L718.4 143.9L720.6 141.8L722.8 139.7L724.9 137.6L727.0 135.4L729.2 133.3L731.3 131.1L733.5 128.9L735.6 126.8L737.8 124.6L740.0 122.5L742.3 120.5L744.6 118.4L747.0 116.5L749.4 114.5L751.8 112.7L754.4 110.9L756.9 109.2L759.5 107.5L762.2 106.0L764.8 104.5L767.4 103.2L770.0 101.9L772.5 100.7L775.0 99.7L777.3 98.7L779.6 97.8L781.8 97.6L784.0 98.5L786.4 99.6L788.8 100.6L791.4 101.8L794.1 102.9L796.8 104.1L799.6 105.4L802.5 106.6L805.4 107.9L808.3 109.2L811.2 110.5L814.1 111.8L817.0 113.2L819.9 114.5L822.8 115.8L825.7 117.2L828.6 118.6L831.5 120.0L834.3 121.5L837.1 122.9L839.9 124.4L842.7 126.0L845.4 127.6L848.1 129.2L850.8 130.9L853.3 132.6L855.8 134.3L858.2 136.0L860.5 137.7L862.6 139.4L864.7 141.1L866.6 142.7L868.4 144.2L869.7 146.2L871.0 148.3L872.4 150.5L873.8 152.9L875.3 155.3L876.9 157.8L878.5 160.4L880.1 163.0L881.8 165.6L883.4 168.2L885.1 170.9L886.8 173.6L888.5 176.2L890.1 178.9L891.8 181.5L893.4 184.2L895.1 186.8L896.8 189.4L898.4 192.0L900.1 194.6L901.7 197.1L903.4 199.7L905.1 202.2L906.7 204.8L908.4 207.3L910.1 209.8L911.8 212.4L913.5 214.9L915.1 217.4L916.8 219.9L918.5 222.4L920.2 224.9L921.9 227.4L923.7 229.8L925.4 232.3L927.1 234.8L928.8 237.3L930.5 239.8L932.2 242.2L933.8 244.7L935.5 247.2L937.1 249.7L938.7 252.3L940.3 254.8L941.9 257.4L943.4 259.9L944.8 262.5L946.2 265.2L947.5 267.8L948.8 270.5L950.0 273.2L951.1 275.9L952.2 278.7L953.2 281.5L954.2 284.3L955.1 287.1L956.0 289.9L956.9 292.7L957.8 295.6L958.8 298.4L959.7 301.2L960.7 304.1L961.7 306.9L962.7 309.7L963.7 312.5L964.8 315.3L965.9 318.1L967.0 320.8L968.1 323.6L969.1 326.4L970.2 329.2L971.2 332.1L972.2 334.9L973.2 337.7L974.2 340.5L975.1 343.4L976.1 346.2L977.0 349.1L977.9 351.9L978.8 354.8L979.7 357.7L980.5 360.5L981.4 363.4L982.3 366.3L983.2 369.2L984.0 372.0L984.9 374.9L985.8 377.8L986.6 380.6L987.5 383.5L988.4 386.4L989.3 389.2L990.2 392.1L991.1 395.0L992.0 397.8L992.9 400.7L993.8 403.5L994.8 406.4L995.7 409.2L996.6 412.1L997.6 414.9L998.5 417.8L999.4 420.6L1000.4 423.5L1001.3 426.3L1002.3 429.2L1003.2 432.0L1004.2 434.9L1005.1 437.7L1006.1 440.6L1007.0 443.4L1008.0 446.3L1008.9 449.1L1009.9 452.0L1010.8 454.8L1011.8 457.7L1012.7 460.5L1013.7 463.4L1014.6 466.2L1015.6 469.0L1016.5 471.9L1017.5 474.7L1018.4 477.6L1019.4 480.4L1020.3 483.3L1021.3 486.1L1022.2 489.0L1023.1 491.8L1024.1 494.7L1025.0 497.5L1026.0 500.4L1026.9 503.2L1027.9 506.1L1028.8 508.9L1029.8 511.8L1030.7 514.6L1031.7 517.5L1032.6 520.3L1033.6 523.1L1034.5 526.0L1035.5 528.8L1036.4 531.7L1037.4 534.5L1038.3 537.4L1039.3 540.2L1040.2 543.1L1041.2 545.9L1042.1 548.8L1043.1 551.6L1044.0 554.5L1045.0 557.3L1045.9 560.1L1046.9 563.0L1047.8 565.8L1048.8 568.7L1049.7 571.5L1050.7 574.4L1051.7 577.2L1052.7 580.0L1053.6 582.9L1054.6 585.7L1055.6 588.5L1056.7 591.4L1057.7 594.2L1058.7 597.0L1059.8 599.8L1060.8 602.6L1061.9 605.4L1062.9 608.2L1064.0 611.0L1065.0 613.8L1066.1 616.7L1067.1 619.5L1068.1 622.3L1069.1 625.1L1070.1 627.9L1071.1 630.8L1072.1 633.6L1073.1 636.5L1074.0 639.3L1074.9 642.2L1075.9 645.0L1076.8 647.9L1077.6 650.7L1078.5 653.6L1079.4 656.5L1080.2 659.4L1081.0 662.2L1081.8 665.1L1082.6 668.0L1083.3 670.9L1084.1 673.8L1084.9 676.7L1085.6 679.6L1086.4 682.5L1087.2 685.4L1088.0 688.3L1088.8 691.2L1089.7 694.0L1090.6 696.9L1091.5 699.8L1092.4 702.6L1093.3 705.5L1094.3 708.3L1095.3 711.1L1096.3 714.0L1097.3 716.8L1098.3 719.6L1099.3 722.4L1100.3 725.3L1101.3 728.1L1102.3 730.9L1103.4 733.7L1104.3 736.6L1105.3 739.4L1106.3 742.2L1107.3 745.1L1108.3 747.9L1109.2 750.8L1110.2 753.6L1111.1 756.4L1112.1 759.3L1113.0 762.1L1113.9 765.0L1114.9 767.8L1115.8 770.7L1116.7 773.6L1117.7 776.4L1118.6 779.3L1119.5 782.1L1120.5 785.0L1121.4 787.8L1122.3 790.7L1123.2 793.5L1124.2 796.4L1125.1 799.2L1126.0 802.1L1127.0 804.9L1127.9 807.8L1128.8 810.6L1129.8 813.5L1130.7 816.3L1131.6 819.2L1132.6 822.0L1133.5 824.9L1134.5 827.7L1135.5 830.6L1136.4 833.4L1137.4 836.2L1138.4 839.1L1139.4 841.9L1140.5 844.7L1141.5 847.5L1142.5 850.4L1143.5 853.2L1144.6 856.0L1145.6 858.8L1146.7 861.6L1147.7 864.4L1148.8 867.2L1149.8 870.1L1150.8 872.9L1151.9 875.7L1152.9 878.5L1153.9 881.3L1154.9 884.1L1156.0 887.0L1157.0 889.8L1158.0 892.6L1159.0 895.4L1160.0 898.3L1161.0 901.1L1162.0 903.9L1163.0 906.8L1164.0 909.6L1165.0 912.4L1166.1 915.2L1167.1 918.0L1168.1 920.9L1169.2 923.7L1170.3 926.5L1171.4 929.2L1172.5 932.0L1173.6 934.8L1174.7 937.6L1175.9 940.4L1177.1 943.1L1178.2 945.9L1179.4 948.6L1180.6 951.4L1181.8 954.1L1183.0 956.9L1184.2 959.6L1185.4 962.4L1186.7 965.1L1187.9 967.9L1189.1 970.6L1190.3 973.4L1191.5 976.1L1192.7 978.8L1193.9 981.6L1195.1 984.3L1196.4 987.1L1197.6 989.8L1198.8 992.6L1200.0 995.3L1201.2 998.1L1202.4 1000.8L1203.5 1003.6L1204.7 1006.3L1205.9 1009.1L1207.1 1011.9L1208.3 1014.6L1209.5 1017.4L1210.7 1020.1L1211.8 1022.9L1213.0 1025.6L1214.2 1028.4L1215.4 1031.2L1216.6 1033.9L1217.7 1036.7L1218.9 1039.4L1220.1 1042.2L1221.3 1044.9L1222.5 1047.7L1223.7 1050.4L1224.9 1053.2L1226.1 1055.9L1227.4 1058.7L1228.6 1061.4L1229.8 1064.2L1231.0 1066.9L1232.2 1069.6L1233.5 1072.4L1234.7 1075.1L1236.0 1077.8L1237.2 1080.6L1238.4 1083.3L1239.7 1086.0L1241.0 1088.7L1242.2 1091.5L1243.5 1094.2L1244.8 1096.9L1246.1 1099.6L1247.4 1102.3L1248.7 1105.0L1250.0 1107.7L1251.4 1110.4L1252.7 1113.1L1254.0 1115.8L1255.4 1118.4L1256.7 1121.1L1258.0 1123.8L1259.4 1126.5L1260.7 1129.2L1262.1 1131.9L1263.4 1134.6L1264.7 1137.2L1266.1 1139.9L1267.4 1142.6L1268.8 1145.3L1270.1 1148.0L1271.4 1150.7L1272.8 1153.3L1274.1 1156.0L1275.5 1158.7L1276.8 1161.4L1278.1 1164.1L1279.5 1166.8L1280.8 1169.5L1282.2 1172.1L1283.5 1174.8L1284.8 1177.5L1286.2 1180.2L1287.5 1182.9L1288.9 1185.5L1290.3 1188.2L1291.6 1190.9L1293.0 1193.6L1294.4 1196.2L1295.8 1198.9L1297.2 1201.5L1298.5 1204.2L1299.9 1206.9L1301.3 1209.5L1302.7 1212.2L1304.1 1214.8L1305.5 1217.5L1306.9 1220.2L1308.3 1222.8L1309.6 1225.5L1311.0 1228.2L1312.4 1230.8L1313.7 1233.5L1315.1 1236.2L1316.4 1238.9L1317.7 1241.6L1319.0 1244.3L1320.3 1247.0L1321.6 1249.7L1322.9 1252.4L1324.2 1255.1L1325.4 1257.8L1326.7 1260.6L1328.0 1263.3L1329.2 1266.0L1330.4 1268.8L1331.7 1271.5L1332.9 1274.2L1334.1 1277.0L1335.3 1279.7L1336.6 1282.5L1337.8 1285.2L1339.0 1287.9L1340.2 1290.7L1341.4 1293.4L1342.6 1296.2L1343.8 1299.0L1345.0 1301.7L1346.1 1304.5L1347.3 1307.2L1348.5 1310.0L1349.7 1312.7L1350.9 1315.5L1352.1 1318.2L1353.3 1321.0L1354.5 1323.7L1355.7 1326.5L1356.9 1329.2L1358.1 1332.0L1359.4 1334.7L1360.6 1337.4L1361.8 1340.2L1363.1 1342.9L1364.3 1345.6L1365.6 1348.3L1366.9 1351.0L1368.2 1353.7L1369.5 1356.4L1370.9 1359.1L1372.2 1361.8L1373.6 1364.4L1375.0 1367.1L1376.5 1369.7L1377.9 1372.3L1379.4 1374.9L1380.9 1377.5L1382.5 1380.1L1384.0 1382.6L1385.6 1385.2L1387.2 1387.7L1388.9 1390.2L1390.5 1392.7L1392.2 1395.1L1394.0 1397.6L1395.7 1400.0L1397.5 1402.3L1399.4 1404.7L1401.2 1407.0L1403.2 1409.2L1405.1 1411.4L1407.2 1413.5L1409.2 1415.6L1411.4 1417.7L1413.5 1419.7L1415.7 1421.7L1417.9 1423.7L1420.2 1425.6L1422.4 1427.6L1424.6 1429.6L1426.8 1431.6L1429.1 1433.6L1431.3 1435.6L1433.4 1437.6L1435.6 1439.7L1437.8 1441.8L1439.9 1443.9L1442.0 1446.0L1444.1 1448.1L1446.2 1450.2L1448.3 1452.4L1450.4 1454.5L1452.5 1456.7L1454.6 1458.9L1456.6 1461.1L1458.7 1463.3L1460.7 1465.5L1462.7 1467.7L1464.7 1469.9L1466.7 1472.1L1468.7 1474.4L1470.7 1476.6L1472.7 1478.9L1474.7 1481.1L1476.7 1483.3L1478.7 1485.6L1480.7 1487.8L1482.7 1490.1L1484.7 1492.3L1486.7 1494.5L1488.7 1496.7L1490.8 1499.0L1492.8 1501.2L1494.8 1503.4L1496.9 1505.6L1498.9 1507.7L1501.0 1509.9L1503.1 1512.1L1505.2 1514.2L1507.3 1516.4L1509.4 1518.5L1511.5 1520.7L1513.6 1522.8L1515.7 1524.9L1517.8 1527.1L1519.8 1529.3L1521.9 1531.4L1524.0 1533.6L1526.0 1535.8L1528.1 1538.0L1530.1 1540.2L1532.1 1542.4L1534.1 1544.6L1536.1 1546.9L1538.1 1549.1L1540.1 1551.3L1542.1 1553.6L1544.1 1555.9L1546.0 1558.1L1548.0 1560.4L1550.0 1562.6L1552.0 1564.9L1554.0 1567.1L1556.0 1569.4L1558.0 1571.6L1560.0 1573.8L1562.0 1576.0L1564.1 1578.2L1566.1 1580.4L1568.2 1582.5L1570.3 1584.7L1572.4 1586.9L1574.4 1589.0L1576.5 1591.2L1578.6 1593.4L1580.6 1595.5L1582.7 1597.7L1584.7 1599.9L1586.7 1602.2L1588.7 1604.4L1590.7 1606.6L1592.7 1608.9L1594.7 1611.1L1596.7 1613.3L1598.7 1615.6L1600.7 1617.8L1602.7 1619.9L1604.8 1622.1L1606.9 1624.2L1609.0 1626.2L1611.2 1628.2L1613.4 1630.2L1615.7 1632.0L1618.0 1633.9L1620.4 1635.6L1622.9 1637.3L1625.3 1639.0L1627.8 1640.6L1630.3 1642.2L1632.9 1643.8L1635.5 1645.3L1638.1 1646.8L1640.7 1648.3L1643.3 1649.7L1645.9 1651.2L1648.5 1652.6L1651.2 1654.1L1653.8 1655.5L1656.4 1657.0L1659.0 1658.4L1661.7 1659.9L1664.3 1661.3L1666.9 1662.8L1669.6 1664.2L1672.2 1665.7L1674.8 1667.1L1677.4 1668.6L1680.1 1670.0L1682.7 1671.4L1685.3 1672.9L1688.0 1674.3L1690.6 1675.7L1693.3 1677.1L1696.0 1678.4L1698.6 1679.8L1701.3 1681.1L1704.0 1682.4L1706.7 1683.8L1709.4 1685.1L1712.1 1686.4L1714.8 1687.6L1717.5 1688.9L1720.2 1690.2L1722.9 1691.5L1725.6 1692.8L1728.3 1694.1L1731.0 1695.5L1733.7 1696.8L1736.4 1698.2L1739.0 1699.6L1741.7 1701.0L1744.3 1702.4L1746.9 1703.8L1749.6 1705.3L1752.2 1706.8L1754.8 1708.3L1757.4 1709.8L1759.9 1711.3L1762.5 1712.8L1765.1 1714.3L1767.7 1715.9L1770.3 1717.4L1772.9 1718.9L1775.5 1720.4L1778.1 1721.9L1780.7 1723.3L1783.3 1724.8L1785.9 1726.2L1788.6 1727.6L1791.2 1729.0L1793.9 1730.3L1796.6 1731.6L1799.3 1732.8L1802.1 1734.0L1804.8 1735.1L1807.6 1736.2L1810.4 1737.3L1813.2 1738.2L1816.0 1739.2L1818.9 1740.1L1821.8 1740.9L1824.6 1741.8L1827.5 1742.6L1830.4 1743.3L1833.3 1744.1L1836.2 1744.9L1839.1 1745.6L1842.0 1746.3L1844.9 1747.0L1847.9 1747.7L1850.8 1748.5L1853.7 1749.2L1856.6 1749.9L1859.5 1750.6L1862.4 1751.4L1865.3 1752.1L1868.2 1752.9L1871.1 1753.6L1874.0 1754.4L1876.9 1755.2L1879.8 1755.9L1882.7 1756.7L1885.6 1757.5L1888.5 1758.3L1891.4 1759.1L1894.3 1759.9L1897.2 1760.7L1900.1 1761.4L1903.0 1762.2L1905.9 1763.0L1908.8 1763.8L1911.7 1764.5L1914.6 1765.3L1917.5 1766.0L1920.4 1766.8L1923.3 1767.5L1926.2 1768.2L1929.1 1769.0L1932.1 1769.7L1935.0 1770.4L1937.9 1771.2L1940.8 1771.9L1943.7 1772.6L1946.6 1773.4L1949.5 1774.1L1952.4 1774.8L1955.3 1775.5L1958.2 1776.3L1961.2 1777.0L1964.1 1777.7L1967.0 1778.4L1969.9 1779.2L1972.8 1779.9L1975.7 1780.6L1978.6 1781.3L1981.6 1782.0L1984.5 1782.6L1987.4 1783.3L1990.3 1784.0L1993.3 1784.6L1996.2 1785.3L1999.1 1785.9L2002.1 1786.5L2005.0 1787.1L2007.9 1787.7L2010.9 1788.3L2013.8 1788.9L2016.8 1789.5L2019.7 1790.1L2022.7 1790.7L2025.6 1791.3L2028.5 1791.9L2031.5 1792.5L2034.4 1793.0L2037.4 1793.6L2040.3 1794.2L2043.3 1794.8L2046.2 1795.4L2049.1 1796.0L2052.1 1796.6L2055.0 1797.1L2058.0 1797.7L2060.9 1798.3L2063.9 1798.8L2066.8 1799.4L2069.8 1799.9L2072.7 1800.4L2075.7 1801.0L2078.7 1801.5L2081.6 1802.0L2084.6 1802.5L2087.6 1803.0L2090.5 1803.4L2093.5 1803.9L2096.4 1804.5L2099.4 1805.0L2102.3 1805.5L2105.3 1806.1L2108.2 1806.7L2111.2 1807.3L2114.1 1808.0L2117.0 1808.7L2119.9 1809.5L2122.8 1810.3L2125.7 1811.1L2128.6 1812.0L2131.5 1812.9L2134.4 1813.8L2137.3 1814.7L2140.2 1815.6L2143.1 1816.5L2146.0 1817.4L2149.0 1818.3L2151.9 1819.2L2154.9 1820.0L2157.9 1820.8L2160.9 1821.6L2163.9 1822.3L2167.0 1823.1L2170.0 1823.7L2173.1 1824.4L2176.1 1825.0L2179.2 1825.6L2182.3 1826.2L2185.3 1826.8L2188.2 1827.3L2191.1 1827.9L2193.8 1828.4L2196.5 1828.8L2199.1 1829.3L2201.5 1829.7L2203.0 1830.0" stroke="#ff2414"/>
<path d="M174.6 884.6L174.7 887.0L174.7 889.5L174.8 892.1L174.9 894.8L175.0 897.7L175.1 900.6L175.2 903.6L175.3 906.7L175.5 909.8L175.6 912.9L175.8 916.1L176.0 919.2L176.3 922.3L176.5 925.4L176.8 928.5L177.1 931.6L177.5 934.7L177.8 937.8L178.2 940.8L178.6 943.9L179.0 946.9L179.4 949.9L179.9 952.9L180.3 955.9L180.7 958.9L181.2 961.9L181.6 964.9L182.1 967.9L182.5 970.9L182.9 973.9L183.4 976.9L183.8 979.9L184.3 982.9L184.7 985.8L185.2 988.8L185.6 991.8L186.1 994.8L186.5 997.7L187.0 1000.7L187.4 1003.7L187.9 1006.7L188.3 1009.6L188.8 1012.6L189.3 1015.6L189.7 1018.5L190.2 1021.5L190.7 1024.5L191.2 1027.4L191.7 1030.4L192.2 1033.3L192.7 1036.3L193.2 1039.3L193.7 1042.2L194.2 1045.2L194.7 1048.1L195.3 1051.1L195.8 1054.0L196.3 1057.0L196.9 1059.9L197.4 1062.9L197.9 1065.9L198.5 1068.8L199.0 1071.7L199.6 1074.7L200.2 1077.6L200.7 1080.6L201.3 1083.5L201.9 1086.5L202.5 1089.4L203.1 1092.3L203.7 1095.3L204.4 1098.2L205.0 1101.1L205.7 1104.1L206.4 1107.0L207.1 1109.9L207.8 1112.8L208.6 1115.7L209.4 1118.6L210.1 1121.5L210.9 1124.4L211.7 1127.3L212.5 1130.2L213.3 1133.1L214.1 1135.9L214.9 1138.8L215.7 1141.7L216.4 1144.6L217.2 1147.5L217.9 1150.5L218.6 1153.4L219.3 1156.3L220.1 1159.2L220.8 1162.1L221.5 1165.0L222.2 1167.9L223.0 1170.8L223.7 1173.7L224.5 1176.6L225.3 1179.5L226.1 1182.4L226.9 1185.3L227.7 1188.2L228.6 1191.0L229.5 1193.9L230.4 1196.7L231.4 1199.6L232.4 1202.4L233.5 1205.2L234.5 1208.0L235.7 1210.7L236.8 1213.5L238.0 1216.2L239.3 1218.9L240.6 1221.6L241.9 1224.3L243.3 1226.9L244.8 1229.5L246.3 1232.0L247.8 1234.5L249.4 1237.0L251.1 1239.3L252.8 1241.6L254.6 1243.8L256.5 1245.8L258.4 1247.7L260.4 1249.3L262.4 1250.8L264.5 1252.0L266.6 1252.9L268.8 1253.5L270.9 1253.7L273.1 1253.7L275.3 1253.3L277.4 1252.6L279.6 1251.6L281.7 1250.3L283.7 1248.8L285.7 1247.1L287.6 1245.2L289.4 1243.1L291.2 1240.9L292.9 1238.6L294.6 1236.2L296.2 1233.8L297.7 1231.2L299.2 1228.7L300.6 1226.1L302.0 1223.4L303.3 1220.7L304.6 1218.0L305.8 1215.3L307.0 1212.6L308.2 1209.8L309.3 1207.1L310.5 1204.3L311.6 1201.5L312.7 1198.7L313.8 1196.0L314.9 1193.2L316.0 1190.4L317.1 1187.6L318.1 1184.8L319.1 1181.9L320.1 1179.1L321.1 1176.3L322.1 1173.4L323.0 1170.6L324.0 1167.8L324.9 1164.9L325.8 1162.0L326.6 1159.2L327.4 1156.3L328.2 1153.4L329.0 1150.5L329.8 1147.6L330.5 1144.7L331.2 1141.8L331.9 1138.9L332.6 1136.0L333.3 1133.0L334.0 1130.1L334.6 1127.2L335.3 1124.3L336.0 1121.4L336.7 1118.4L337.4 1115.5L338.1 1112.6L338.8 1109.7L339.6 1106.8L340.3 1103.9L341.1 1101.0L341.8 1098.1L342.6 1095.2L343.3 1092.3L344.1 1089.4L344.8 1086.5L345.6 1083.6L346.3 1080.7L347.0 1077.7L347.6 1074.8L348.3 1071.9L348.9 1069.0L349.5 1066.0L350.1 1063.1L350.6 1060.1L351.1 1057.2L351.6 1054.2L352.1 1051.3L352.5 1048.3L352.9 1045.3L353.3 1042.4L353.7 1039.4L354.1 1036.4L354.5 1033.5L354.9 1030.5L355.3 1027.5L355.7 1024.5L356.1 1021.6L356.6 1018.6L357.0 1015.7L357.5 1012.7L358.0 1009.7L358.6 1006.8L359.1 1003.9L359.7 1000.9L360.3 998.0L361.0 995.1L361.6 992.1L362.2 989.2L362.9 986.3L363.6 983.4L364.2 980.4L364.8 977.5L365.5 974.6L366.1 971.6L366.7 968.7L367.2 965.8L367.8 962.8L368.4 959.9L368.9 956.9L369.4 954.0L370.0 951.0L370.5 948.1L371.0 945.1L371.5 942.1L372.0 939.2L372.4 936.2L372.9 933.3L373.3 930.3L373.8 927.3L374.2 924.4L374.6 921.4L375.1 918.4L375.5 915.4L376.0 912.5L376.4 909.5L376.9 906.6L377.4 903.6L377.9 900.6L378.4 897.7L378.9 894.7L379.5 891.8L380.0 888.9L380.6 885.9L381.2 883.0L381.7 880.0L382.3 877.1L382.9 874.1L383.5 871.2L384.0 868.2L384.6 865.3L385.1 862.3L385.7 859.4L386.2 856.4L386.7 853.5L387.3 850.5L387.8 847.6L388.3 844.6L388.9 841.7L389.4 838.7L389.9 835.8L390.5 832.8L391.0 829.9L391.6 826.9L392.1 824.0L392.7 821.0L393.3 818.1L393.8 815.1L394.4 812.2L395.0 809.2L395.6 806.3L396.1 803.4L396.7 800.4L397.3 797.5L397.9 794.5L398.5 791.6L399.1 788.7L399.7 785.7L400.3 782.8L400.9 779.8L401.5 776.9L402.1 774.0L402.7 771.0L403.3 768.1L404.0 765.1L404.6 762.2L405.2 759.3L405.8 756.3L406.4 753.4L407.1 750.5L407.7 747.5L408.3 744.6L409.0 741.7L409.6 738.7L410.2 735.8L410.9 732.9L411.6 729.9L412.2 727.0L412.9 724.1L413.6 721.2L414.3 718.3L415.0 715.3L415.6 712.4L416.3 709.5L417.1 706.6L417.8 703.7L418.5 700.8L419.2 697.8L419.9 694.9L420.6 692.0L421.3 689.1L421.9 686.2L422.6 683.2L423.3 680.3L423.9 677.4L424.6 674.5L425.2 671.5L425.9 668.6L426.5 665.7L427.1 662.7L427.7 659.8L428.3 656.8L428.9 653.9L429.5 651.0L430.1 648.0L430.7 645.1L431.2 642.1L431.8 639.2L432.4 636.2L432.9 633.3L433.4 630.3L433.9 627.4L434.5 624.4L434.9 621.5L435.4 618.5L435.9 615.5L436.3 612.6L436.8 609.6L437.2 606.6L437.7 603.7L438.1 600.7L438.5 597.7L439.0 594.8L439.4 591.8L439.9 588.8L440.3 585.9L440.8 582.9L441.3 580.0L441.8 577.0L442.3 574.0L442.7 571.1L443.2 568.1L443.7 565.2L444.3 562.2L444.8 559.2L445.3 556.3L445.8 553.3L446.4 550.4L446.9 547.4L447.4 544.5L448.0 541.5L448.6 538.6L449.1 535.6L449.7 532.7L450.3 529.7L450.9 526.8L451.4 523.9L452.0 520.9L452.6 518.0L453.2 515.0L453.8 512.1L454.4 509.2L455.0 506.2L455.6 503.3L456.2 500.3L456.8 497.4L457.4 494.4L458.0 491.5L458.6 488.6L459.2 485.6L459.8 482.7L460.5 479.8L461.1 476.8L461.7 473.9L462.4 471.0L463.0 468.0L463.7 465.1L464.4 462.2L465.0 459.3L465.7 456.3L466.4 453.4L467.0 450.5L467.7 447.6L468.4 444.7L469.1 441.7L469.8 438.8L470.4 435.9L471.1 433.0L471.8 430.0L472.5 427.1L473.2 424.2L473.9 421.3L474.6 418.4L475.3 415.4L476.0 412.5L476.7 409.6L477.4 406.7L478.2 403.8L478.9 400.9L479.6 398.0L480.4 395.1L481.1 392.2L481.9 389.3L482.7 386.4L483.4 383.5L484.2 380.6L484.9 377.7L485.7 374.8L486.5 371.9L487.3 369.0L488.0 366.1L488.8 363.2L489.6 360.3L490.3 357.4L491.1 354.5L491.8 351.6L492.6 348.7L493.4 345.8L494.2 342.9L494.9 340.0L495.7 337.1L496.5 334.2L497.3 331.3L498.1 328.4L498.9 325.5L499.7 322.6L500.6 319.7L501.4 316.9L502.3 314.0L503.2 311.1L504.1 308.3L505.0 305.4L505.9 302.5L506.8 299.7L507.7 296.8L508.7 294.0L509.7 291.1L510.6 288.3L511.6 285.5L512.6 282.7L513.7 279.8L514.7 277.0L515.8 274.2L516.9 271.4L518.0 268.7L519.1 265.9L520.3 263.1L521.4 260.4L522.6 257.6L523.8 254.9L525.1 252.1L526.3 249.4L527.6 246.7L528.9 244.0L530.2 241.3L531.5 238.6L532.8 235.9L534.2 233.2L535.6 230.6L537.0 227.9L538.4 225.3L539.8 222.6L541.2 220.0L542.7 217.4L544.2 214.8L545.7 212.2L547.3 209.7L548.8 207.1L550.4 204.6L552.1 202.1L553.7 199.6L555.4 197.1L557.1 194.7L558.9 192.2L560.6 189.8L562.4 187.4L564.2 185.0L566.1 182.6L567.9 180.3L569.8 177.9L571.6 175.6L573.5 173.3L575.5 171.0L577.4 168.7L579.3 166.4L581.3 164.1L583.3 161.9L585.3 159.6L587.3 157.4L589.3 155.2L591.3 153.0L593.4 150.8L595.5 148.7L597.6 146.5L599.7 144.4L601.8 142.3L604.0 140.2L606.1 138.1L608.3 136.1L610.5 134.0L612.7 132.0L614.9 130.0L617.2 128.0L619.4 126.0L621.7 124.1L624.0 122.2L626.3 120.3L628.7 118.4L631.0 116.6L633.4 114.8L635.9 113.1L638.3 111.4L640.8 109.7L643.3 108.1L645.8 106.6L648.4 105.1L651.0 103.6L653.6 102.2L656.3 100.8L658.9 99.5L661.6 98.3L664.4 97.1L667.1 96.0L669.9 94.9L672.7 93.9L675.5 93.0L678.4 92.1L681.2 91.3L684.1 90.6L687.0 90.0L689.9 89.4L692.8 89.0L695.7 88.6L698.6 88.3L701.5 88.2L704.4 88.1L707.3 88.2L710.3 88.5L713.1 88.8L716.0 89.3L718.9 89.8L721.7 90.6L724.5 91.4L727.3 92.3L730.0 93.3L732.7 94.5L735.4 95.7L738.0 97.0L740.6 98.5L743.2 99.9L745.7 101.5L748.2 103.1L750.6 104.8L753.0 106.6L755.4 108.4L757.7 110.2L760.1 112.1L762.3 114.0L764.6 116.0L766.8 118.0L769.0 120.0L771.2 122.0L773.3 124.1L775.5 126.2L777.6 128.3L779.6 130.5L781.7 132.7L783.7 134.9L785.7 137.1L787.6 139.4L789.6 141.7L791.5 144.0L793.3 146.3L795.2 148.7L797.0 151.1L798.7 153.5L800.4 155.9L802.1 158.4L803.8 160.9L805.4 163.4L807.0 165.9L808.5 168.5L810.0 171.1L811.5 173.7L812.9 176.3L814.3 179.0L815.7 181.6L817.1 184.3L818.5 186.9L819.8 189.6L821.2 192.3L822.5 195.0L823.9 197.6L825.2 200.3L826.6 203.0L827.9 205.7L829.2 208.4L830.6 211.1L831.9 213.7L833.3 216.4L834.6 219.1L835.9 221.8L837.3 224.5L838.6 227.2L839.9 229.9L841.3 232.6L842.6 235.3L843.9 238.0L845.2 240.7L846.5 243.4L847.7 246.1L849.0 248.8L850.2 251.5L851.4 254.3L852.6 257.0L853.8 259.8L855.0 262.5L856.1 265.3L857.2 268.1L858.4 270.9L859.5 273.7L860.6 276.4L861.7 279.2L862.8 282.0L863.9 284.8L865.0 287.6L866.1 290.4L867.3 293.1L868.5 295.9L869.7 298.6L870.9 301.3L872.1 304.1L873.4 306.8L874.7 309.4L876.0 312.1L877.4 314.8L878.7 317.4L880.1 320.1L881.4 322.7L882.7 325.4L884.0 328.0L885.2 330.7L886.4 333.4L887.6 336.2L888.7 338.9L889.7 341.7L890.7 344.5L891.6 347.4L892.5 350.2L893.4 353.0L894.3 355.9L895.1 358.8L896.0 361.7L896.8 364.5L897.7 367.4L898.5 370.3L899.4 373.1L900.3 376.0L901.2 378.9L902.1 381.7L903.0 384.6L904.0 387.4L905.0 390.2L906.0 393.0L907.1 395.8L908.1 398.6L909.2 401.4L910.4 404.2L911.5 407.0L912.6 409.8L913.8 412.5L914.9 415.3L916.0 418.1L917.2 420.9L918.3 423.6L919.4 426.4L920.5 429.2L921.6 432.0L922.7 434.8L923.7 437.6L924.8 440.4L925.9 443.2L926.9 446.0L928.0 448.8L929.1 451.6L930.1 454.4L931.2 457.2L932.3 460.0L933.3 462.8L934.4 465.6L935.5 468.4L936.6 471.2L937.6 474.1L938.7 476.9L939.7 479.7L940.8 482.5L941.8 485.3L942.8 488.1L943.8 490.9L944.7 493.8L945.7 496.6L946.6 499.5L947.4 502.3L948.3 505.2L949.1 508.1L949.9 511.0L950.6 513.9L951.4 516.8L952.2 519.7L952.9 522.6L953.7 525.5L954.5 528.4L955.2 531.3L956.0 534.2L956.8 537.1L957.7 539.9L958.5 542.8L959.4 545.7L960.3 548.5L961.2 551.4L962.1 554.3L963.0 557.1L963.9 560.0L964.9 562.8L965.8 565.7L966.8 568.5L967.7 571.4L968.7 574.2L969.6 577.0L970.6 579.9L971.5 582.7L972.5 585.6L973.4 588.4L974.4 591.3L975.3 594.1L976.3 597.0L977.2 599.8L978.2 602.6L979.2 605.5L980.1 608.3L981.1 611.2L982.0 614.0L983.0 616.9L983.9 619.7L984.8 622.6L985.8 625.4L986.7 628.3L987.7 631.1L988.6 634.0L989.6 636.8L990.5 639.7L991.5 642.5L992.4 645.4L993.4 648.2L994.3 651.1L995.2 653.9L996.2 656.8L997.1 659.6L998.0 662.5L999.0 665.3L999.9 668.2L1000.8 671.0L1001.7 673.9L1002.7 676.7L1003.6 679.6L1004.5 682.4L1005.4 685.3L1006.4 688.1L1007.3 691.0L1008.2 693.9L1009.1 696.7L1010.1 699.6L1011.0 702.4L1012.0 705.3L1012.9 708.1L1013.9 711.0L1014.8 713.8L1015.8 716.6L1016.7 719.5L1017.7 722.3L1018.7 725.2L1019.7 728.0L1020.7 730.8L1021.7 733.6L1022.7 736.5L1023.7 739.3L1024.7 742.1L1025.7 745.0L1026.7 747.8L1027.7 750.6L1028.8 753.4L1029.8 756.2L1030.8 759.0L1031.9 761.9L1032.9 764.7L1034.0 767.5L1035.0 770.3L1036.1 773.1L1037.1 775.9L1038.1 778.7L1039.1 781.6L1040.1 784.4L1041.1 787.2L1042.1 790.0L1043.1 792.9L1044.0 795.7L1044.9 798.6L1045.8 801.4L1046.7 804.3L1047.6 807.2L1048.5 810.0L1049.4 812.9L1050.2 815.8L1051.1 818.7L1051.9 821.5L1052.7 824.4L1053.6 827.3L1054.4 830.2L1055.2 833.1L1056.0 836.0L1056.9 838.9L1057.7 841.7L1058.5 844.6L1059.3 847.5L1060.1 850.4L1060.9 853.3L1061.8 856.2L1062.6 859.1L1063.4 861.9L1064.2 864.8L1065.1 867.7L1065.9 870.6L1066.8 873.5L1067.7 876.3L1068.5 879.2L1069.4 882.1L1070.3 884.9L1071.2 887.8L1072.1 890.7L1073.0 893.5L1073.9 896.4L1074.8 899.2L1075.7 902.1L1076.7 905.0L1077.6 907.8L1078.5 910.6L1079.5 913.5L1080.5 916.3L1081.5 919.2L1082.5 922.0L1083.5 924.8L1084.5 927.6L1085.6 930.4L1086.6 933.2L1087.7 936.0L1088.8 938.8L1089.9 941.6L1091.1 944.4L1092.2 947.2L1093.3 949.9L1094.4 952.7L1095.5 955.5L1096.5 958.3L1097.6 961.1L1098.6 963.9L1099.7 966.7L1100.7 969.6L1101.7 972.4L1102.7 975.2L1103.6 978.1L1104.6 980.9L1105.6 983.7L1106.5 986.6L1107.5 989.4L1108.5 992.2L1109.5 995.1L1110.5 997.9L1111.6 1000.7L1112.6 1003.5L1113.7 1006.3L1114.8 1009.1L1115.9 1011.8L1117.1 1014.6L1118.3 1017.4L1119.5 1020.1L1120.7 1022.9L1121.9 1025.6L1123.1 1028.3L1124.2 1031.1L1125.4 1033.9L1126.6 1036.6L1127.7 1039.4L1128.9 1042.2L1130.0 1044.9L1131.1 1047.7L1132.1 1050.5L1133.2 1053.3L1134.2 1056.2L1135.3 1059.0L1136.3 1061.8L1137.4 1064.6L1138.4 1067.4L1139.4 1070.2L1140.4 1073.1L1141.5 1075.9L1142.5 1078.7L1143.5 1081.5L1144.5 1084.3L1145.6 1087.1L1146.6 1090.0L1147.7 1092.8L1148.7 1095.6L1149.8 1098.4L1150.9 1101.2L1151.9 1104.0L1153.0 1106.8L1154.1 1109.6L1155.2 1112.4L1156.2 1115.2L1157.3 1118.0L1158.3 1120.8L1159.4 1123.6L1160.4 1126.4L1161.4 1129.3L1162.4 1132.1L1163.4 1134.9L1164.4 1137.8L1165.4 1140.6L1166.3 1143.4L1167.3 1146.3L1168.3 1149.1L1169.3 1151.9L1170.4 1154.7L1171.4 1157.5L1172.5 1160.3L1173.6 1163.1L1174.7 1165.8L1175.9 1168.6L1177.1 1171.3L1178.4 1174.0L1179.7 1176.7L1181.0 1179.4L1182.3 1182.0L1183.7 1184.7L1185.1 1187.3L1186.5 1189.9L1187.9 1192.6L1189.2 1195.2L1190.6 1197.9L1191.9 1200.6L1193.2 1203.2L1194.5 1205.9L1195.7 1208.7L1196.9 1211.4L1198.1 1214.1L1199.3 1216.9L1200.4 1219.7L1201.6 1222.4L1202.7 1225.2L1203.8 1228.0L1204.9 1230.8L1206.1 1233.6L1207.2 1236.3L1208.3 1239.1L1209.4 1241.9L1210.6 1244.7L1211.7 1247.5L1212.9 1250.2L1214.0 1253.0L1215.2 1255.7L1216.4 1258.5L1217.6 1261.2L1218.9 1263.9L1220.2 1266.6L1221.5 1269.3L1222.8 1272.0L1224.1 1274.7L1225.5 1277.4L1226.9 1280.0L1228.3 1282.7L1229.7 1285.3L1231.0 1288.0L1232.4 1290.7L1233.8 1293.3L1235.2 1296.0L1236.5 1298.7L1237.9 1301.3L1239.2 1304.0L1240.6 1306.7L1241.9 1309.4L1243.2 1312.1L1244.6 1314.7L1245.9 1317.4L1247.3 1320.1L1248.7 1322.7L1250.1 1325.4L1251.5 1328.0L1252.9 1330.6L1254.4 1333.2L1255.9 1335.8L1257.5 1338.4L1259.0 1340.9L1260.6 1343.5L1262.1 1346.0L1263.6 1348.6L1265.2 1351.2L1266.7 1353.7L1268.2 1356.3L1269.7 1358.9L1271.1 1361.5L1272.6 1364.2L1274.0 1366.8L1275.4 1369.4L1276.8 1372.0L1278.3 1374.7L1279.7 1377.3L1281.2 1379.9L1282.7 1382.4L1284.2 1385.0L1285.8 1387.6L1287.4 1390.1L1289.0 1392.6L1290.6 1395.1L1292.2 1397.7L1293.9 1400.2L1295.5 1402.7L1297.1 1405.2L1298.8 1407.7L1300.4 1410.2L1302.0 1412.8L1303.6 1415.3L1305.2 1417.8L1306.7 1420.4L1308.3 1423.0L1309.8 1425.6L1311.3 1428.1L1312.8 1430.7L1314.3 1433.3L1315.8 1435.9L1317.3 1438.5L1318.9 1441.1L1320.4 1443.7L1321.9 1446.3L1323.4 1448.9L1325.0 1451.4L1326.5 1454.0L1328.1 1456.5L1329.7 1459.1L1331.3 1461.6L1332.9 1464.1L1334.6 1466.6L1336.2 1469.1L1337.9 1471.6L1339.6 1474.1L1341.3 1476.5L1343.0 1479.0L1344.8 1481.4L1346.5 1483.9L1348.3 1486.3L1350.1 1488.7L1351.9 1491.1L1353.7 1493.5L1355.5 1495.9L1357.3 1498.3L1359.1 1500.7L1361.0 1503.0L1362.8 1505.4L1364.7 1507.7L1366.6 1510.0L1368.5 1512.4L1370.4 1514.7L1372.3 1517.0L1374.2 1519.3L1376.1 1521.6L1378.1 1523.9L1380.0 1526.2L1382.0 1528.5L1384.0 1530.7L1385.9 1533.0L1387.9 1535.2L1389.9 1537.5L1391.9 1539.7L1393.9 1541.9L1395.9 1544.1L1398.0 1546.4L1400.0 1548.6L1402.0 1550.8L1404.1 1553.0L1406.1 1555.1L1408.2 1557.3L1410.3 1559.5L1412.4 1561.6L1414.5 1563.8L1416.6 1565.9L1418.7 1568.1L1420.8 1570.2L1422.9 1572.3L1425.0 1574.4L1427.2 1576.5L1429.3 1578.6L1431.5 1580.7L1433.7 1582.8L1435.8 1584.8L1438.0 1586.8L1440.3 1588.9L1442.5 1590.9L1444.7 1592.9L1447.0 1594.9L1449.2 1596.8L1451.5 1598.8L1453.8 1600.7L1456.1 1602.7L1458.4 1604.6L1460.7 1606.5L1463.0 1608.4L1465.3 1610.3L1467.6 1612.2L1470.0 1614.1L1472.3 1616.0L1474.6 1617.8L1477.0 1619.7L1479.4 1621.5L1481.8 1623.3L1484.2 1625.2L1486.6 1626.9L1489.0 1628.7L1491.4 1630.5L1493.8 1632.3L1496.2 1634.0L1498.7 1635.8L1501.1 1637.5L1503.6 1639.2L1506.0 1641.0L1508.5 1642.7L1511.0 1644.4L1513.4 1646.1L1515.9 1647.8L1518.4 1649.4L1520.9 1651.1L1523.4 1652.7L1526.0 1654.3L1528.5 1655.8L1531.1 1657.4L1533.7 1658.9L1536.2 1660.5L1538.8 1662.0L1541.4 1663.5L1544.0 1665.0L1546.6 1666.5L1549.2 1667.9L1551.9 1669.4L1554.5 1670.9L1557.1 1672.3L1559.7 1673.7L1562.4 1675.2L1565.0 1676.6L1567.7 1678.0L1570.3 1679.4L1573.0 1680.8L1575.7 1682.1L1578.3 1683.4L1581.0 1684.8L1583.7 1686.1L1586.5 1687.3L1589.2 1688.6L1591.9 1689.9L1594.6 1691.1L1597.4 1692.3L1600.1 1693.6L1602.8 1694.8L1605.6 1696.0L1608.3 1697.2L1611.1 1698.4L1613.8 1699.6L1616.6 1700.8L1619.3 1702.0L1622.1 1703.2L1624.8 1704.4L1627.6 1705.5L1630.4 1706.6L1633.2 1707.8L1636.0 1708.9L1638.8 1709.9L1641.6 1711.0L1644.4 1712.1L1647.2 1713.1L1650.0 1714.1L1652.8 1715.1L1655.6 1716.2L1658.5 1717.2L1661.3 1718.2L1664.1 1719.2L1667.0 1720.2L1669.8 1721.1L1672.6 1722.1L1675.5 1723.1L1678.3 1724.1L1681.1 1725.1L1684.0 1726.0L1686.8 1727.0L1689.6 1728.0L1692.5 1728.9L1695.4 1729.8L1698.2 1730.7L1701.1 1731.6L1703.9 1732.5L1706.8 1733.4L1709.7 1734.3L1712.5 1735.1L1715.4 1736.0L1718.3 1736.8L1721.2 1737.7L1724.1 1738.5L1726.9 1739.3L1729.8 1740.2L1732.7 1741.0L1735.6 1741.8L1738.5 1742.6L1741.4 1743.5L1744.3 1744.3L1747.1 1745.1L1750.0 1745.9L1752.9 1746.8L1755.8 1747.6L1758.7 1748.4L1761.6 1749.3L1764.4 1750.1L1767.3 1750.9L1770.2 1751.8L1773.1 1752.6L1776.0 1753.5L1778.8 1754.3L1781.7 1755.2L1784.6 1756.1L1787.4 1756.9L1790.3 1757.8L1793.2 1758.7L1796.0 1759.6L1798.9 1760.4L1801.8 1761.3L1804.7 1762.1L1807.5 1763.0L1810.4 1763.8L1813.3 1764.6L1816.2 1765.4L1819.1 1766.1L1822.0 1766.8L1824.9 1767.5L1827.9 1768.2L1830.8 1768.8L1833.7 1769.4L1836.7 1770.0L1839.6 1770.6L1842.6 1771.1L1845.5 1771.7L1848.5 1772.2L1851.4 1772.7L1854.4 1773.2L1857.3 1773.7L1860.3 1774.2L1863.2 1774.7L1866.2 1775.2L1869.2 1775.7L1872.1 1776.2L1875.1 1776.7L1878.0 1777.2L1881.0 1777.8L1883.9 1778.3L1886.9 1778.8L1889.9 1779.3L1892.8 1779.8L1895.8 1780.4L1898.7 1780.9L1901.7 1781.4L1904.6 1782.0L1907.6 1782.5L1910.5 1783.1L1913.5 1783.7L1916.4 1784.2L1919.3 1784.8L1922.3 1785.4L1925.2 1786.0L1928.2 1786.5L1931.1 1787.1L1934.1 1787.7L1937.0 1788.2L1940.0 1788.8L1942.9 1789.3L1945.9 1789.8L1948.8 1790.3L1951.8 1790.8L1954.7 1791.3L1957.7 1791.8L1960.7 1792.3L1963.6 1792.8L1966.6 1793.2L1969.6 1793.7L1972.5 1794.1L1975.5 1794.6L1978.5 1795.0L1981.4 1795.5L1984.4 1795.9L1987.4 1796.4L1990.3 1796.8L1993.3 1797.3L1996.3 1797.7L1999.2 1798.2L2002.2 1798.6L2005.2 1799.0L2008.1 1799.5L2011.1 1799.9L2014.1 1800.4L2017.0 1800.8L2020.0 1801.3L2023.0 1801.7L2025.9 1802.2L2028.9 1802.6L2031.9 1803.1L2034.8 1803.5L2037.8 1804.0L2040.8 1804.4L2043.7 1804.8L2046.7 1805.3L2049.7 1805.7L2052.7 1806.2L2055.6 1806.6L2058.6 1807.0L2061.6 1807.4L2064.5 1807.8L2067.5 1808.2L2070.5 1808.6L2073.5 1809.0L2076.5 1809.3L2079.4 1809.7L2082.4 1810.0L2085.4 1810.4L2088.4 1810.7L2091.4 1811.0L2094.4 1811.3L2097.4 1811.6L2100.3 1811.9L2103.3 1812.3L2106.3 1812.6L2109.3 1812.9L2112.3 1813.2L2115.3 1813.5L2118.3 1813.8L2121.3 1814.1L2124.3 1814.4L2127.3 1814.7L2130.4 1814.9L2133.4 1815.2L2136.4 1815.5L2139.4 1815.8L2142.4 1816.1L2145.5 1816.3L2148.5 1816.6L2151.6 1816.8L2154.6 1817.0L2157.7 1817.2L2160.8 1817.4L2163.8 1817.6L2166.9 1817.7L2170.1 1817.9L2173.2 1818.0L2176.3 1818.1L2179.5 1818.2L2182.6 1818.3L2185.7 1818.4L2188.8 1818.5L2191.9 1818.5L2195.0 1818.6L2197.9 1818.7L2200.8 1818.7L2203.6 1818.8L2206.3 1818.9L2208.8 1818.9L2211.2 1819.0L2212.0 1819.0" stroke="#2dc862"/>
</g>
</svg></body></html>
